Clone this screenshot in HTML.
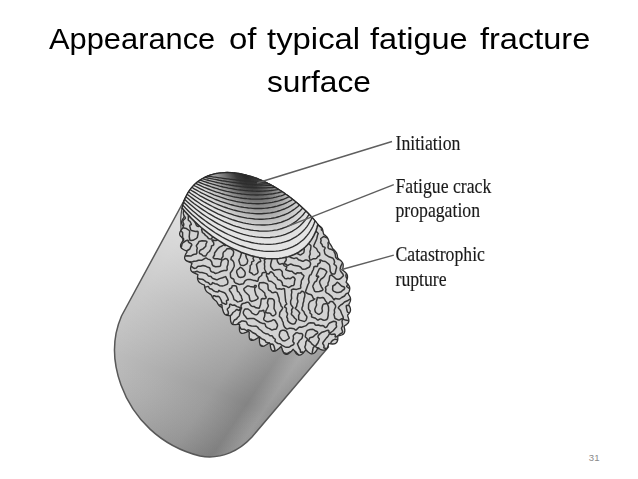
<!DOCTYPE html>
<html><head><meta charset="utf-8"><title>slide</title>
<style>
html,body{margin:0;padding:0;background:#fff;}
body{width:638px;height:479px;position:relative;overflow:hidden;font-family:"Liberation Sans",sans-serif;}
.t{position:absolute;font-family:"Liberation Sans",sans-serif;font-size:30px;line-height:34px;color:#000;white-space:nowrap;}
.t span{display:inline-block;transform-origin:0 0;}
.l{position:absolute;font-family:"Liberation Serif",serif;font-size:17.7px;line-height:20px;color:#1a1a1a;-webkit-text-stroke:0.14px #222;white-space:nowrap;transform-origin:0 100%;transform:scaleY(1.17);filter:blur(0.35px);}
.pn{position:absolute;left:588.8px;top:451.6px;font-size:9.6px;line-height:11px;color:#8a8a8a;font-family:"Liberation Sans",sans-serif;}
</style></head><body>
<svg width="638" height="479" viewBox="0 0 638 479" style="position:absolute;left:0;top:0">
<defs>
<linearGradient id="gb" gradientUnits="userSpaceOnUse" x1="118" y1="330" x2="268.8" y2="431.2">
<stop offset="0" stop-color="#c0c0c0"/><stop offset="0.33" stop-color="#aeaeae"/><stop offset="0.62" stop-color="#9c9c9c"/><stop offset="0.815" stop-color="#848484"/><stop offset="0.915" stop-color="#9a9a9a"/><stop offset="1" stop-color="#8c8c8c"/>
</linearGradient>
<linearGradient id="ga" gradientUnits="userSpaceOnUse" x1="230" y1="225" x2="150" y2="440">
<stop offset="0" stop-color="#fff" stop-opacity="0.52"/><stop offset="0.4" stop-color="#fff" stop-opacity="0.16"/><stop offset="0.7" stop-color="#fff" stop-opacity="0"/><stop offset="1" stop-color="#000" stop-opacity="0.06"/>
</linearGradient>
<radialGradient id="gd" gradientUnits="userSpaceOnUse" cx="0" cy="0" r="1" gradientTransform="matrix(53.032 59.731 36.600 -32.495 245.87 175.00)">
<stop offset="0" stop-color="#1c1c1c" stop-opacity="0.95"/><stop offset="0.18" stop-color="#262626" stop-opacity="0.9"/><stop offset="0.4" stop-color="#3c3c3c" stop-opacity="0.62"/><stop offset="0.65" stop-color="#555" stop-opacity="0.3"/><stop offset="0.85" stop-color="#666" stop-opacity="0.1"/><stop offset="1" stop-color="#777" stop-opacity="0"/>
</radialGradient>
<filter id="bl"><feGaussianBlur stdDeviation="0.45"/></filter>
<clipPath id="face"><ellipse cx="265.5" cy="262.0" rx="105.1" ry="64.4" transform="rotate(48.4 265.5 262.0)"/></clipPath>
</defs>
<g filter="url(#bl)">
<path d="M186,197 L121.5,316 C112,338 112,360 121,385 C133,418 160,446 200,456 C222,460 240,450 252,437 L328.5,347 L300,300 L220,230 Z" fill="url(#gb)"/>
<path d="M186,197 L121.5,316 C112,338 112,360 121,385 C133,418 160,446 200,456 C222,460 240,450 252,437 L328.5,347 L300,300 L220,230 Z" fill="url(#ga)" stroke="#585858" stroke-width="1.5"/>
<path d="M185.2,198.2 184.4,200 183.8,201.8 183.2,203.6 182.7,205.5 182.2,207.4 181.8,209.3 181.5,211.3 181.2,213.4 181,215.4 180.8,217.5 180.7,219.7 180.7,221.8 180.8,224 180.9,226.3 181,228.5 181.2,230.8 181.5,233.1 181.9,235.4 182.3,237.8 182.8,240.1 183.3,242.5 183.9,244.9 184.6,247.3Z" fill="#dadada" stroke="#484848" stroke-width="1.2"/>
<path d="M336.8,342.3 337.5,340.8 337.8,339.1 337.8,337.2 338.2,335.7 340.1,335.5 341.8,335 343.2,334.2 344.2,333.1 344.7,331.7 344.8,330.1 344.5,328.4 344,326.6 345,325.5 346.5,324.6 347.7,323.6 348.5,322.4 348.9,321 348.8,319.5 348.4,317.9 347.8,316.3 347.7,314.9 348.9,313.7 349.8,312.4 350.4,311.1 350.5,309.7 350.3,308.2 349.8,306.8 349,305.4 348.9,304 349.7,302.6 350.3,301.2 350.6,299.8 350.5,298.4 350.1,297 349.4,295.7 348.5,294.3 348.4,293 349.1,291.5 349.6,290 349.8,288.5 349.6,287.1 349.1,285.8 348.3,284.5 347.2,283.3 346.1,282.2 346.7,280.6 347.2,279 347.5,277.5 347.5,276 347.1,274.6 346.4,273.4 345.3,272.2 344.1,271.2 342.7,270.2 342.8,268.7 343.1,267 343.2,265.5 343.1,264.1 342.5,262.7 341.7,261.6 340.7,260.5 339.4,259.5 338.2,258.5 337.5,257.3 337.4,255.8 337.1,254.4 336.6,253.1 335.8,251.9 334.9,250.8 333.9,249.8 332.8,248.8 332.2,247.6 331.6,246.3 330.9,245.1 330.1,244 329.3,242.8 328.9,241.4 328.5,240 328,238.7 327.3,237.5 326.4,236.4 325.3,235.4 324,234.6 323.4,233.4 323.1,231.8 322.8,230.3 322.4,228.9 321.6,227.7 320.6,226.7 319.4,225.9 317.9,225.3 316.3,224.8 316,223.3 315.7,221.6 314.8,220.6 313.9,219.5 313,218.5 312,217.4 311.1,216.4 310.1,215.4 309.1,214.3 308.2,213.3 307.2,212.3 306.2,211.3 305.2,210.4 304.2,209.4 303.2,208.4 302.1,207.5 301.1,206.5 300.1,205.6 299,204.6 298,203.7 296.9,202.8 295.8,201.9 294.7,201 293.7,200.1 292.6,199.2 291.5,198.4 290.3,197.5 289.2,196.7 288.1,195.8 287,195 285.8,194.2 284.7,193.4 283.5,192.6 282.4,191.8 281.2,191 280,190.3 278.8,189.5 277.6,188.8 276.4,188 275.2,187.3 274,186.6 272.8,185.9 271.6,185.3 270.3,184.6 269.1,183.9 267.8,183.3 266.6,182.7 265.3,182.1 264,181.5 262.8,180.9 261.5,180.3 260.2,179.8 258.9,179.3 257.6,178.7 256.3,178.2 254.9,177.8 253.6,177.3 252.3,176.9 251,176.4 249.6,176 248.3,175.6 246.9,175.3 245.6,174.9 244.2,174.6 242.8,174.3 241.4,174 240.1,173.7 238.7,173.5 237.3,173.3 235.9,173.1 234.5,172.9 233.1,172.8 231.7,172.7 230.3,172.6 228.9,172.6 227.5,172.5 226.1,172.5 224.7,172.6 223.3,172.7 221.9,172.8 220.5,172.9 219.1,173.1 217.7,173.3 216.4,173.5 215,173.8 213.6,174.1 212.3,174.5 210.9,174.9 209.6,175.3 208.3,175.8 207,176.4 205.7,176.9 204.4,177.5 203.2,178.2 202,178.9 200.8,179.6 199.6,180.4 198.4,181.2 197.3,182.1 196.3,182.9 195.2,183.9 194.2,184.8 193.2,185.8 192.3,186.9 191.4,188 190.5,189.1 189.7,190.2 188.9,191.3 188.1,192.5 187.4,193.7 186.7,195 186.1,196.2 185.5,197.5 184.9,198.8 184.4,200.1 183.9,201.4 183.5,202.7 183.1,204.1 182.7,205.4 184.2,207.2 184.7,208.7 184,209.9 183.5,211.2 183.3,212.6 183.4,213.9 183.8,215.3 184.1,216.7 183.4,218 182.6,219.3 181.9,220.7 181.6,222.1 181.7,223.5 182.2,224.8 183.1,226.2 183.1,227.5 181.9,229 180.8,230.5 180,232.1 179.6,233.5 179.8,235 180.6,236.3 182,237.5 183.6,238.6 183.7,240 182.2,241.7 181.2,243.5 180.6,245.1 180.6,246.6 181.3,247.9 182.6,249 184.3,250 186.4,250.8 187,252.1 185.8,253.9 185,255.8 184.6,257.4 184.8,258.9 185.6,260.1 187,261.1 188.7,261.9 190.7,262.6 192,263.6 191.2,265.5 190.7,267.3 190.6,268.9 190.9,270.3 191.8,271.5 193,272.4 194.5,273.2 196.2,273.9 197.9,274.6 197.6,276.3 197.5,278 197.7,279.5 198.2,280.9 199,282 200.2,283 201.5,283.8 203,284.5 204.5,285.2 204.6,286.8 204.9,288.3 205.4,289.6 206.1,290.8 207,291.9 208.2,292.8 209.4,293.6 210.7,294.4 211.6,295.5 212.1,296.8 212.8,298 213.7,299.1 214.8,300 216,300.9 216.9,301.9 217.5,303.2 218.2,304.4 219.1,305.5 220.2,306.4 221.5,307.1 222.3,308.2 222.7,309.8 223.2,311.3 223.7,312.7 224.5,313.9 225.6,314.8 227.1,315.4 228.8,315.6 230.4,315.9 230.4,318 230.5,320 230.8,321.8 231.4,323.3 232.4,324.3 233.9,324.7 235.8,324.6 238.1,324.1 239.6,324.4 239.4,327 239.4,329.4 239.7,331.3 240.5,332.7 241.8,333.3 243.7,333.2 246,332.4 248.5,331.2 249.3,332.5 249.1,335.3 249.3,337.7 249.9,339.4 251.1,340.3 252.8,340.4 254.9,339.6 257.3,338.2 259.5,337.2 259.4,340.2 259.6,342.9 260.2,345 261.2,346.2 262.7,346.4 264.6,345.8 266.8,344.5 269.2,342.7 270.2,344 270.5,346.8 271.1,349.1 272.1,350.7 273.4,351.4 275.1,351.1 277,350.1 279,348.4 281.1,346.5 282,348.5 282.7,351 283.7,352.9 285,354.1 286.4,354.4 288,354 289.7,352.8 291.5,351.2 293.2,349.3 294.4,350.7 295.6,352.7 296.9,354.2 298.3,355 299.8,355.1 301.3,354.6 302.8,353.5 304.2,351.9 305.6,350.2 307,350.9 308.5,352.3 310,353.3 311.5,353.8 313,353.7 314.4,353 315.6,351.8 316.7,350.1 317.7,348.3 319.3,348.8 321,349.7 322.7,350.2 324.3,350.2 325.7,349.7 326.8,348.6 327.7,347.1 328.3,345.3 328.7,343.3 330.7,343.8 332.6,344 334.3,343.9 335.7,343.3Z" fill="#d3d3d3" stroke="#2e2e2e" stroke-width="1.3" stroke-linejoin="round"/>
<clipPath id="bf"><path d="M336.8,342.3 337.5,340.8 337.8,339.1 337.8,337.2 338.2,335.7 340.1,335.5 341.8,335 343.2,334.2 344.2,333.1 344.7,331.7 344.8,330.1 344.5,328.4 344,326.6 345,325.5 346.5,324.6 347.7,323.6 348.5,322.4 348.9,321 348.8,319.5 348.4,317.9 347.8,316.3 347.7,314.9 348.9,313.7 349.8,312.4 350.4,311.1 350.5,309.7 350.3,308.2 349.8,306.8 349,305.4 348.9,304 349.7,302.6 350.3,301.2 350.6,299.8 350.5,298.4 350.1,297 349.4,295.7 348.5,294.3 348.4,293 349.1,291.5 349.6,290 349.8,288.5 349.6,287.1 349.1,285.8 348.3,284.5 347.2,283.3 346.1,282.2 346.7,280.6 347.2,279 347.5,277.5 347.5,276 347.1,274.6 346.4,273.4 345.3,272.2 344.1,271.2 342.7,270.2 342.8,268.7 343.1,267 343.2,265.5 343.1,264.1 342.5,262.7 341.7,261.6 340.7,260.5 339.4,259.5 338.2,258.5 337.5,257.3 337.4,255.8 337.1,254.4 336.6,253.1 335.8,251.9 334.9,250.8 333.9,249.8 332.8,248.8 332.2,247.6 331.6,246.3 330.9,245.1 330.1,244 329.3,242.8 328.9,241.4 328.5,240 328,238.7 327.3,237.5 326.4,236.4 325.3,235.4 324,234.6 323.4,233.4 323.1,231.8 322.8,230.3 322.4,228.9 321.6,227.7 320.6,226.7 319.4,225.9 317.9,225.3 316.3,224.8 316,223.3 315.7,221.6 314.8,220.6 313.9,219.5 313,218.5 312,217.4 311.1,216.4 310.1,215.4 309.1,214.3 308.2,213.3 307.2,212.3 306.2,211.3 305.2,210.4 304.2,209.4 303.2,208.4 302.1,207.5 301.1,206.5 300.1,205.6 299,204.6 298,203.7 296.9,202.8 295.8,201.9 294.7,201 293.7,200.1 292.6,199.2 291.5,198.4 290.3,197.5 289.2,196.7 288.1,195.8 287,195 285.8,194.2 284.7,193.4 283.5,192.6 282.4,191.8 281.2,191 280,190.3 278.8,189.5 277.6,188.8 276.4,188 275.2,187.3 274,186.6 272.8,185.9 271.6,185.3 270.3,184.6 269.1,183.9 267.8,183.3 266.6,182.7 265.3,182.1 264,181.5 262.8,180.9 261.5,180.3 260.2,179.8 258.9,179.3 257.6,178.7 256.3,178.2 254.9,177.8 253.6,177.3 252.3,176.9 251,176.4 249.6,176 248.3,175.6 246.9,175.3 245.6,174.9 244.2,174.6 242.8,174.3 241.4,174 240.1,173.7 238.7,173.5 237.3,173.3 235.9,173.1 234.5,172.9 233.1,172.8 231.7,172.7 230.3,172.6 228.9,172.6 227.5,172.5 226.1,172.5 224.7,172.6 223.3,172.7 221.9,172.8 220.5,172.9 219.1,173.1 217.7,173.3 216.4,173.5 215,173.8 213.6,174.1 212.3,174.5 210.9,174.9 209.6,175.3 208.3,175.8 207,176.4 205.7,176.9 204.4,177.5 203.2,178.2 202,178.9 200.8,179.6 199.6,180.4 198.4,181.2 197.3,182.1 196.3,182.9 195.2,183.9 194.2,184.8 193.2,185.8 192.3,186.9 191.4,188 190.5,189.1 189.7,190.2 188.9,191.3 188.1,192.5 187.4,193.7 186.7,195 186.1,196.2 185.5,197.5 184.9,198.8 184.4,200.1 183.9,201.4 183.5,202.7 183.1,204.1 182.7,205.4 184.2,207.2 184.7,208.7 184,209.9 183.5,211.2 183.3,212.6 183.4,213.9 183.8,215.3 184.1,216.7 183.4,218 182.6,219.3 181.9,220.7 181.6,222.1 181.7,223.5 182.2,224.8 183.1,226.2 183.1,227.5 181.9,229 180.8,230.5 180,232.1 179.6,233.5 179.8,235 180.6,236.3 182,237.5 183.6,238.6 183.7,240 182.2,241.7 181.2,243.5 180.6,245.1 180.6,246.6 181.3,247.9 182.6,249 184.3,250 186.4,250.8 187,252.1 185.8,253.9 185,255.8 184.6,257.4 184.8,258.9 185.6,260.1 187,261.1 188.7,261.9 190.7,262.6 192,263.6 191.2,265.5 190.7,267.3 190.6,268.9 190.9,270.3 191.8,271.5 193,272.4 194.5,273.2 196.2,273.9 197.9,274.6 197.6,276.3 197.5,278 197.7,279.5 198.2,280.9 199,282 200.2,283 201.5,283.8 203,284.5 204.5,285.2 204.6,286.8 204.9,288.3 205.4,289.6 206.1,290.8 207,291.9 208.2,292.8 209.4,293.6 210.7,294.4 211.6,295.5 212.1,296.8 212.8,298 213.7,299.1 214.8,300 216,300.9 216.9,301.9 217.5,303.2 218.2,304.4 219.1,305.5 220.2,306.4 221.5,307.1 222.3,308.2 222.7,309.8 223.2,311.3 223.7,312.7 224.5,313.9 225.6,314.8 227.1,315.4 228.8,315.6 230.4,315.9 230.4,318 230.5,320 230.8,321.8 231.4,323.3 232.4,324.3 233.9,324.7 235.8,324.6 238.1,324.1 239.6,324.4 239.4,327 239.4,329.4 239.7,331.3 240.5,332.7 241.8,333.3 243.7,333.2 246,332.4 248.5,331.2 249.3,332.5 249.1,335.3 249.3,337.7 249.9,339.4 251.1,340.3 252.8,340.4 254.9,339.6 257.3,338.2 259.5,337.2 259.4,340.2 259.6,342.9 260.2,345 261.2,346.2 262.7,346.4 264.6,345.8 266.8,344.5 269.2,342.7 270.2,344 270.5,346.8 271.1,349.1 272.1,350.7 273.4,351.4 275.1,351.1 277,350.1 279,348.4 281.1,346.5 282,348.5 282.7,351 283.7,352.9 285,354.1 286.4,354.4 288,354 289.7,352.8 291.5,351.2 293.2,349.3 294.4,350.7 295.6,352.7 296.9,354.2 298.3,355 299.8,355.1 301.3,354.6 302.8,353.5 304.2,351.9 305.6,350.2 307,350.9 308.5,352.3 310,353.3 311.5,353.8 313,353.7 314.4,353 315.6,351.8 316.7,350.1 317.7,348.3 319.3,348.8 321,349.7 322.7,350.2 324.3,350.2 325.7,349.7 326.8,348.6 327.7,347.1 328.3,345.3 328.7,343.3 330.7,343.8 332.6,344 334.3,343.9 335.7,343.3Z"/></clipPath>
<path clip-path="url(#bf)" d="M181.3,165 180.7,166.5 180.9,167.5 181.3,168 182,168.4 184.5,168.8 185.1,169.5 185.6,171 187.5,171.9 187.9,172.5 187.7,173.5 186.7,175 186,177 185,177.7 183.5,178.4 181,178.4 180.5,178 180.1,175.5 178.1,174 173.6,169.5 173.7,169 174.7,167.5 175,166 175.9,165 M219.2,165 218.2,165.5 217.7,166 217.4,167 217,167.2 215.5,167.2 214.1,168 213.8,168.5 213.5,170.9 212.5,172.6 212.4,173.5 212.9,175.5 212.2,177.5 212.3,178.5 214,180 215,181.9 217,182.9 217.2,183.5 216.5,185.5 215,187.3 213.8,189.5 213.5,189.8 212.5,190 210.5,189.1 209.5,188.9 207.5,189.5 206,189.4 203.5,190.3 200,190.8 197,189.7 195.5,185.3 191.3,181 191.1,180 191.2,177 191.5,176.5 194.2,174.5 195.5,171.5 195.7,170.5 195.1,169.5 194,168.5 192.5,167.5 190.5,166.7 189,165 M199.4,165 199.1,166 199.1,166.5 201.5,169.8 203.5,171.5 203.4,173 204,173.9 204.5,173.6 204.5,172 204.9,171.5 206.5,171 207.4,170.5 208.5,168.2 209.5,167.2 210,167 210.1,166.5 208.4,165 M165,170.7 166.5,169.7 167.5,169.6 168.1,170 168.9,172 171.2,174 171.5,175 171,177 171.5,178 172.9,179 173.1,179.5 172.7,181.5 173,182.5 174,183 176,182.8 177.5,184.1 178,184.2 178.5,183.7 179.2,182 180,181.1 183,179.2 184,179.2 185.1,180.5 185.1,183 185.4,183.5 187,184.5 187.4,185 187.7,187.5 189,189.7 190,190.4 192,190.6 194,192.1 196,192.9 198.9,195.5 200,195.8 203,195.9 205.5,197.4 209.5,196.7 211.5,196 213.5,194.1 215.2,193 216.5,191.5 217,191.2 219.5,192.2 222,192.2 226,194.1 227,194.1 228.5,193.5 229.5,193.5 231.5,194.3 232.3,195 232.9,196 232.9,196.5 232.6,197 230.6,198.5 230.3,199 230,201.5 228.5,203 228.3,203.5 230,204.3 231.5,205.6 233.5,205.9 234,206.2 234.5,207 234.8,209 235.5,210.7 236,211.6 237.5,212.5 238,213.3 238.3,214.5 238.3,217 239.2,219 239.5,220.5 239.3,222 238.5,223.4 236.5,224.9 233.5,225.9 231.5,227.2 229.5,227.1 227,228.1 225.5,227.9 224,226.5 222.5,225.8 221,224.1 220,223.6 218.4,223.5 218,223 218.3,222 219.2,220.5 217.5,219.3 216.8,217.5 215.2,215.5 214,213.5 213.5,213.2 212.5,213.4 211,214.2 210.1,215 209,216.5 207.1,218 206.7,219 206.7,220.5 207.7,221.5 211.1,223 212,223.2 214.5,223.1 216,224 216.6,225 216.4,228.5 216.9,230.5 217.5,231.2 219.2,232 220.5,233.1 225,233.5 228,232.9 229.5,233.5 230.5,233.6 232.5,233 233.5,233 234.9,231.5 236,230.9 238,231 239.5,230.4 240.5,230.4 244.5,235.4 246.5,237.4 247.9,239.5 249,239.9 251,240 251.5,240.5 253,242.4 253.3,244.5 255,246.8 255.2,248 254.4,249.5 254.6,252 253.7,254 254,256 253,258.5 254,260.5 253.5,261.1 252,261.6 251.6,262.5 251.7,264 251.5,264.5 250.2,265.5 250.2,268 249.4,272 252.2,273.5 253,274.6 254,274.9 255,274.7 257,273.6 257.6,273 258.1,272 256.4,264.5 258.5,262.3 260.6,261.5 260.8,261 260.6,260.5 259.7,258.5 260,256.5 259.9,254.5 261.2,250.5 261.4,247.5 262.5,246 262.5,245.5 260.2,242 258,240 257.5,239.7 256,239.6 255,239 252.8,236 251.5,231.5 249.8,230 249,228.8 248,228.6 245,229.5 244.5,229.4 244.2,229 243.8,228 243.5,225.5 242.9,223 243.3,222 245.5,220.9 246.4,220 246.7,219 246.5,215.5 245.7,214.5 241.7,212 241.4,211 241.7,209 241.4,206 241,205.3 240.5,205.1 239,205.4 238.5,205.1 239,202.5 238.6,201.5 237.4,200 237.8,198 237.6,197 237,196.5 235,195.9 234.5,194.3 233.3,193 233.1,192.5 233.5,191.5 234,191.3 236,191.2 238,190.4 240.5,190 242,188 244,187 246,185.2 248.2,182.5 248.2,181.5 247.7,180 246.3,178 245.5,177.7 243,177.9 242,178.5 240.4,181 238.5,182.9 236.5,184 234.4,184.5 234.1,186.5 233,187.4 228.5,188.5 226,187.5 224.5,187.4 223.5,186.8 219.2,182.5 219.2,182 220.2,180.5 219.1,178 219.6,176 219.6,173.5 220.4,171 221.1,170 223.5,168.2 226,168.2 229.4,165 M246.1,165 245.5,165.7 244,166.3 241,166 238.5,166.3 236.5,168.4 234.9,169.5 233.5,171.9 233,171.9 231,171.2 229,172.6 227,173.2 226.3,174 224.9,176.5 224.5,178.5 224.6,179 225,179.7 226.5,180.2 228.5,181.6 230.5,182 231.3,181.5 232.1,179.5 233.5,178.1 235,175.4 235.5,175 236,174.9 238.5,175.3 239,175 240,173.5 240.5,173.4 242.5,174.1 242.8,174 243.1,173.5 243.5,171.5 244,170.8 244.5,170.6 247,170.7 249.3,172 250.8,174.5 252.1,176 252.5,179 253,179.7 254.1,180.5 254.2,181 253,182.3 250.9,183.5 250.9,184.5 251.7,187.5 250.8,189.5 250.1,191.5 248.5,192.6 246.5,192.7 245.5,193.4 243.6,195.5 242.2,199 242.1,200 242.4,200.5 244.3,201.5 245.4,203 246.5,203.5 248,203 249.3,201.5 251,200 252.4,194.5 252.6,192.5 253.1,192 255,191.2 256.5,191.3 258,191.9 259,193.1 260,193.9 261,194.2 263.5,194.3 265.8,193.5 268.6,191 268.6,190.5 267.9,189 268.5,186.2 268.9,185.5 270,184.7 270.5,184 270.7,182 272.5,180.5 272,180 269.5,178.7 268.6,177.5 268.4,176 268,175.1 266,174.3 265.7,173.5 267.1,170.5 269.1,168.5 269.7,165 M261.3,165 260.9,166.5 260.9,167.5 261.5,169 262.8,171 263.1,172.5 262.5,173.4 261,174 260.7,175.5 262,176.9 263.1,178.5 264.8,183 265,184.5 264.6,185.5 263.8,186.5 262,187.6 260.5,188 260,187.8 259.4,187 257.5,185.4 257.1,184.5 256.7,182 255.4,180.5 256.5,178.5 257,178.2 259,178.4 260,178 260.3,177.5 260.2,176.5 258.5,175.3 256.8,171.5 253.6,168.5 253,167.5 252.5,167 251,167 250,166.5 250,166 251.2,165 M276.3,165 276,165.7 274.5,166.9 274.1,167.5 274.1,168 274.9,170 274,172.5 274.4,174.5 274.3,176 275.1,178.5 274.8,179.5 273.8,180.5 273.7,181 275,183 275.9,185.5 278.5,187.8 281,188.6 287,188.5 288,188.3 290,187.4 291,187.7 292.4,190 293.4,191 293.6,191.5 293.3,194 292.7,196.5 293,197.6 294.5,199.5 295,199.6 296.5,197.9 298.5,197.2 299.1,196.5 298.7,194 299.3,191.5 300.2,189.5 300.7,185.5 301.7,183.5 301.1,180.5 301.6,180 303.5,179.2 304.4,178.5 304.8,177.5 304.5,176.5 305,176.3 307,177.2 308.6,177.5 309.3,178 309.6,178.5 309.6,180 310.5,181.5 310.5,182 310,183 308,184.3 306.7,186.5 306.3,189.5 305.6,192.5 303.8,195 302.6,198 302.6,201 303.8,205 307,207.4 309,208.3 310.8,209.5 311.2,210 311.2,210.5 310.6,211.5 310.4,212 310.6,212.5 313.5,215.1 314.5,215.7 315.5,215.8 319.5,215.6 320.5,215.1 322.5,214.8 322.9,214.5 322.8,214 322.5,213.4 322,213.2 320.5,213 320,212.1 319.2,209.5 317.5,208.3 316,206.7 314.5,206.3 312.5,206.4 311.4,206 310.9,205.5 310.9,204 309.6,201 308.8,195 309.5,193.5 311.5,191.3 315.3,189 315.6,187 316.4,185 316.4,184.5 316.1,184 312.3,181 312,180 312.3,179 313.9,177 314.5,175.9 316.8,174 317.3,173 317.9,171 317.4,168.5 317,167.6 315.8,167 315.7,166.5 316.5,166.1 317.5,166.3 318,165.9 318.3,165 M298.6,165 299.5,167.3 302.4,171 302,171.5 301,171.9 299,172.2 298,173 296.9,176.5 298.3,180 298,180.5 296,182 295.2,184.5 294.5,185.3 294,185.4 292,184.8 290,184.5 289.4,184 288.8,182.5 288,182 287,181.9 285,182.7 282.5,181.9 281.5,181.3 278.9,179 278.7,178 280.1,174 280.3,171.5 281,169 281.1,167 282.2,165 M312.9,165 313.1,166 312.4,167.5 312.3,170 309.5,171.3 308.5,172.7 308,173 304.6,172 303.6,171.5 303.2,171 304.5,169.5 304.6,169 304.1,167 304.9,165 M330.5,165 329.5,165.8 327.5,165.5 326,166 323,169.1 320,170.5 319.6,171 319.7,171.5 322,174.1 324,174.1 329,172.6 334,169.2 335,168.9 336,169 335.6,170.5 335.7,171 336,171.5 337.5,172.5 337.6,173 337.9,175 337.5,176.1 337,176.5 335.5,176 335,176.2 333.5,178 331.5,179 329.5,178.3 326.5,179 325.5,178.7 323.5,177.3 322.5,177.5 321.6,178.5 320.7,180.5 319.3,182.5 319.2,183 319.4,183.5 321,184.5 323.1,184.5 325.5,185.5 328,185.1 330,185.5 331.5,184.5 332.5,184.2 335,184.7 335.9,184 337.2,181 336.5,179 336.5,178.4 337,178.1 337.5,178.3 340,178.1 342,178.9 342.5,178.8 344,177.5 346.5,178.1 347.5,177.9 348.2,177.5 349.5,176 351.5,176.9 354.5,176.6 355,177 355.7,179 357,180.5 356.9,181.5 356.5,182 355.5,182.2 354,181.7 353.5,182 351.5,185 351,185.5 350,186.1 348.5,185.8 347,184.4 345.5,183.7 343.5,183.8 340.5,184.9 339.5,185.6 338.9,186.5 339.7,190 342.5,192.6 343.5,193.2 344.5,192.9 346.5,191.9 348.2,190 349,189.5 351.5,189.1 352.5,189.3 353.3,190 354.6,192 352.4,197.5 352.5,198.4 353,199 359.5,202.2 360.5,201.9 362,200.4 363.5,200.1 364.5,199.6 M364.5,180 363.5,180.6 363,180.5 362.7,180 362.7,179 363.6,178 363.5,176.5 362.5,175.9 360.5,176.3 360,175.9 359.7,174.5 360.8,172.5 360.6,172 360,171.8 359,171.8 357.7,173.5 357,174 356,173.6 354.5,172.1 353.6,171.5 350,170 349,170.1 347,171.3 345.5,171.7 343.5,171.7 341.5,170.8 339,171.5 338,171.4 337,169.7 336,169 336.5,168.8 337.5,167.5 338.7,165 M345.9,165 348,166.8 349,167.1 351,166.7 352.6,165 M358.4,165 359.2,168.5 359.5,169 361.1,170 361.8,171.5 363,171.8 364.5,171.1 M290.2,178 291.5,177.2 293.5,177.3 294.5,177 295,176 295.1,175 294.7,173 293.8,171.5 291,169 289.5,168.5 288.5,168.9 287.1,170.5 285.8,171.5 285.3,172.5 285.8,176 286.5,177.3 288.5,178.4 289.5,178.4 290.2,178 M206.4,184.5 207.7,184 208.7,183 210.1,182 210.7,181 210.5,180 206.3,177 204.5,175.1 204,175 202,175.5 200.5,175 199.8,175 199.4,175.5 198.8,179.5 198.8,180.5 199.2,181.5 200.5,183.2 202,184.1 204,184.6 206.4,184.5 M165,199.2 166,198.7 166.5,198.8 168,199.7 169,199.9 171,199.1 171.5,199.3 172.5,201 173,200.5 173.5,199.4 174.4,195.5 174,194.5 171,194 170.1,193 169.3,191.5 169.1,190 169.6,188.5 169.7,186.5 170.3,184 170,183 168.4,182 167.1,180 166,179.6 165,179.7 M364.5,194.5 364,195.1 363.5,195.2 361.8,194.5 358.5,194.1 355.6,192 355.6,191.5 356.6,189.5 357.4,187 359.3,185.5 360.5,183.6 361,183.6 362.5,185 363.7,187.5 364.5,188.5 M165,221.7 165.6,221 165.4,218.5 165.7,215 166.1,213 166.7,212 168.1,211 169.5,209.7 170.5,209.6 171.6,210 173.5,211.5 176,212.7 179,212.4 180.5,212.7 182.5,212.3 183,212.5 183.5,215.5 185,217 185.4,218 185.2,218.5 183.5,220 182.9,221 182.9,222 183.6,223.5 183.8,224.5 183.2,227 183.3,227.5 184,228.1 186.5,228.6 189.2,230.5 189.7,231.5 189.2,236.5 189.8,240 191,240.6 193,240.3 196.5,238.3 197.3,237.5 198.1,233.5 198.1,232 197.9,231.5 197.5,231.3 195.5,231.5 191.5,230.5 190.8,230 190.6,229.5 189.7,226 190,225.2 191.3,224.5 191.3,224 190.1,221.5 188.5,220.4 188.2,219.5 188.4,218 188.3,216.5 188.5,216 190.1,214.5 191,212 191,211 190.4,208 189.3,206.5 189.6,206 190.5,205.7 193,206 196,205.3 196.5,205.4 197,206.1 198.5,210 198.6,211 197,212.9 196,214.5 195.8,215.5 195.8,217.5 195.5,218.3 194.5,219.6 194.3,220.5 196.5,225.5 197.5,226.3 198.5,226.5 200,225.6 201.7,225 201.7,223 202.4,221 202.7,218 202,215 203.1,211 203.6,210 206.5,208.2 208,208 209.4,208.5 212,210.6 213.5,211.2 214.5,210.6 216.1,208.5 217.9,207 220,205.8 222.5,204.9 224.4,203.5 225,202.5 224.9,200.5 224.7,199.5 223,197.6 221,197.6 219,197.2 218.1,197.5 217.7,198 216.9,200 212,203.7 207.5,204 206.7,203.5 205.9,202.5 205,202.2 203.5,202.8 200.5,202.7 198.5,203 197.9,202.5 197.4,200.5 196.5,199.5 194,198.8 192.5,198.1 190.5,197.9 189.8,197.5 188.9,196.5 187,196 186.5,195.6 185.9,194.5 185.5,192.7 185,192 183.5,192.1 182.8,190.5 180,186.9 179,186.1 178,185.9 176.6,186.5 176,187.1 176,188 176.4,189.5 176.3,190 175.2,191.5 175.1,192.5 175.3,193.5 177.5,197.1 178,197.3 180,197.2 180.5,197.4 184.9,201.5 188,202.6 188.3,203 188.2,204 187,206.9 186.4,207.5 184.5,208.3 181,208.4 180.5,208.2 179.9,206.5 179.1,205.5 177.5,204.9 175.5,203.6 173,202.7 172.5,202.7 170.3,204.5 169.5,206.1 169,206.6 166.5,207.4 165,207.5 M364.5,207.4 362,207.1 360,207.9 359,208 358,207.7 356,206.2 354,206.9 353.5,206.8 351.6,205.5 350,205 349.5,204.5 349.5,202 349,200.7 348,199.6 346,198.5 345.6,197 345,196.5 344.5,196.6 344,197 341.5,199.5 341.2,200 341.3,202.5 340.7,206.5 337.5,207 336,207.5 335,207.5 334.4,207 334.1,205.5 333.5,204.5 330.5,202.8 329.5,202.5 326.5,202.9 323.5,202.7 322.9,202.5 322.4,201.5 322.2,199 322.8,196.5 322.9,194.5 323.5,194.1 324.5,193.8 326.3,195 328.5,196 331,199.1 332.5,199.4 337.5,199.3 338,199.1 337.3,198 337.3,197 337.9,196.5 339.5,196.1 340.4,195.5 340.5,195 340,194.5 339,194.1 337,194 336.5,193.7 334.8,191.5 332.5,191.2 331,190.6 327.5,190.2 326,191.8 325,192.2 322.5,191.1 321,191.7 320,191.6 318.5,191 317.5,190.2 317.1,190.5 317,192.5 316.4,196 315.4,198.5 316.3,201.5 316.5,203.5 317,203.8 319,203.7 322.5,204.4 323.5,205.1 324.2,206 324.9,208 325.2,208.5 328,210.1 331,210.2 333,211.5 335,212 339,215 341.5,215.6 342.1,216 342.2,216.5 341.9,217 340.5,218.4 339.9,219.5 339,222.8 336.9,224.5 335.3,227.5 334.5,228.6 333,229.6 330.5,230 327.5,231.5 325.5,231.9 324.5,233.1 324,232.9 323.5,231.5 321.4,230 321.4,227.5 320.7,225.5 320.6,224 320,223 318,222.2 316,222.2 315,221.9 313,220.2 311,220.3 310.5,220.2 309.5,218.5 309,218.1 307.5,217.7 306,216.4 303.9,216 303.6,215.5 303.4,213.5 302,212 301.9,211.5 302,209.5 301.5,208.3 300.3,207.5 298.5,205.7 296,205.2 294,204.4 293.5,204.6 292.1,207.5 290.9,209 290.7,209.5 290.8,210.5 292.2,213 293,213.7 294,213.9 296,213.8 299,215.8 299.4,216.5 300,219.5 299.9,220.5 299,221.6 296.5,223.3 293.8,224.5 293.7,226.5 294.2,227.5 295,228 297,228.3 299,229.7 300,229.9 301.5,228.5 301.9,228 302.2,226.5 302.6,226 304.5,224.7 306.5,222.9 308,222.5 310.5,222.6 311.5,223.2 312,223.9 314.3,229 316,230.5 317,232.3 318.3,233.5 317.5,235.3 316.7,239 313.6,246 314.3,247 316.5,248.5 317.9,251.5 319.6,253 319.8,255 319.5,255.6 317.9,256.5 316.5,258.4 315.5,258.7 313.5,258.7 311.5,259.7 310.5,259.9 310,259.7 309.7,259 309.2,256.5 310.2,254 309.9,251.5 310.6,249.5 311,246 310.3,245 307.5,242.5 307,242.3 306.5,242.4 303.5,243.6 302.6,244 302.4,244.5 304.3,249 304,252 303.5,253 301,254.7 300,254.9 297.3,253.5 296.5,252.5 296,250.9 294.7,249 294.8,247.5 295.2,247 296.5,246.2 298,244.6 299.8,244 300.5,243.5 301.1,240 301,239 300.7,238.5 297.5,234.7 296.5,234.7 295,235.3 293,235.6 292.4,236 292.6,239.5 293.3,245 293.2,245.5 292,246 289.5,245.8 287.5,246.1 287,245.8 286.5,245 286.2,243 285.1,240.5 287.5,237 290.2,234 290.5,233 290.4,231.5 290,230.9 288.6,230 288.6,229.5 289.5,229.1 290.5,229.3 291,229.1 291.5,228.6 291.9,225.5 293.1,224 292.8,223 291.2,220.5 290.4,214.5 290,213.7 289.5,213.3 288.5,213.4 287,214.6 284.4,214 284.1,213.5 283.7,211.5 282.8,209.5 282.8,207.5 283.2,206.5 287,204 289.3,203.5 291.7,200 291.7,199 290,196.5 286,194.7 285,194.9 281.8,196.5 281.5,197.5 281.8,199 282,202.5 281.7,203.5 281,204.1 279,204.9 277.5,206 275.5,208.5 275.1,209.5 275.1,210 276,211.7 276.2,214 276.6,215 278.5,217 279.5,217.4 281.5,217.6 282.3,218 283.2,219.5 284.6,221 284.8,223.5 286.1,225.5 286,226.5 285.2,228.5 285.2,230.5 284.8,231 283,232.2 280.5,234.3 279,234.3 278.1,233.5 278,232.5 279.1,227.5 278.9,226 276.5,222.7 274.5,221.1 272.9,220.5 272.3,220 271.6,218.5 269.9,216 269.7,215 269.9,213 269,210.5 270.2,207.5 270.5,207.1 272.1,206.5 272.4,206 272.3,204.5 272.5,203.5 274,201.6 274.7,199.5 277.2,197 278.6,194 278.8,190 278.5,189.3 278,188.9 277,189 270.8,193 269.4,196.5 269.5,200.5 269.4,201 269,201.3 267,201.4 265.6,203 265,203.1 264.5,202.7 262.5,199.7 260.5,198.7 259.5,198.6 257.5,199.5 256.9,200 256.4,201 255.8,203.5 254,206.2 253,206.7 251,206.4 250.5,206.6 249.8,207.5 248,209 247.8,209.5 248.3,212.5 249,214 249.5,214.5 252,214.4 253.5,214.6 254.2,215 254.3,216.5 254,217.3 253.5,217.7 251.5,218.4 251.1,219 250.6,223 251.5,225.4 252.3,226.5 253.5,227.2 255.5,227.7 256.3,227.5 257.3,226 259.4,224.5 259.5,224 258.8,222 259.1,220 259.1,219 258.7,218.5 256.7,217 255,214.5 255,213.5 256.4,210.5 257.6,208.5 258.5,207.6 262.5,205.8 263.2,206 264.5,208.2 266.5,208.7 267,209.5 266.8,210 265,210.7 264.5,211.1 263.1,214.5 262.8,216 263.1,218.5 264.5,221.4 266.5,222.5 267.6,223.5 268.3,225.5 269,225.7 270.5,225.6 271.5,226.3 273.3,231 273,232 271,234 269.5,234.8 268,235 267.5,234.8 266.8,234 266.4,231 266.2,230.5 264.5,229 264,227.4 262.5,227.9 260,227.7 259,228.2 258.5,229 258.2,231.5 258.7,235 259.1,236 260,236.7 261,237.1 264,236.9 265.6,237.5 267,239.5 268,245 267.2,246.5 267.9,249 267.4,251 267.6,254 266.8,255.5 266.5,258.1 266,258.7 264.6,259.5 264.3,260 264.8,262 264.4,264 264.7,266.5 264.5,268.5 265,270 266.1,272 266.1,272.5 263.5,272.5 262.4,273 262.1,273.5 261.6,275.5 259.5,277 258.5,278.3 257.9,281 257.5,281.3 257,281.2 255,280.5 253.5,280.4 250.5,279.5 248,279.4 246.5,279.9 245,280.9 243.5,283.7 239.5,284.5 238.5,284.3 237.5,283.7 236,283.3 234.9,282.5 234.2,281.5 233.9,279.5 233.4,279 231.4,278 230.6,277 230.3,273 232.5,270 234.1,266.5 234.3,265.5 233.8,262.5 233.3,261.5 232.5,260.4 230.9,259.5 231.4,257 233,255.6 233.2,255 233.7,252 233.1,250.5 231,248.9 230,248.6 227,248.7 225.5,250.6 223.6,252 223,253.5 223,256.5 222,257.8 221.5,259.1 221,259.5 217.5,258.8 215,258.8 214,258.5 213.3,258 213.1,257.5 213.3,257 214.5,255 214.6,253 217.5,249 219.5,247.1 222,246 223.5,245 224,244.8 225,245.6 225.5,245.6 225.9,245 227,242 226.7,240.5 225.5,239.4 222,238.4 220.5,239.2 218,239.4 216,240.6 214.5,240.5 212.5,239.9 212,239.9 212.1,240.5 213.6,242.5 213.8,244 213.6,245 213,245.5 211.5,245.9 211.3,248 210,250.5 209.4,251.5 207.5,253 206,255.7 205.5,256.1 204,256.1 203,255.8 201.5,254.2 200,253.7 199.4,253 199.3,252 200,250.4 200.5,250 203,248.9 205.5,246.5 205.8,246 206,243.8 207,242 206.8,241.5 206,241.1 202,240.7 199,241.5 198.3,243 196.4,245.5 196.5,246.5 197.3,248 196.8,250 196.9,253 196.2,254 193.5,254.5 191.5,255.7 190.5,256 188,255.7 185,256 182.5,255.7 179.5,256.2 178.2,256 177,255.2 176.5,255.3 176,256 176.6,257.5 176.5,258 175.3,260 175,261.5 175.3,262.5 176.5,264.5 177,265 177.5,265.1 179.5,264.4 182.5,262.3 185,261.3 186.5,261.3 191.5,262.1 194,261.2 196.5,261 198.5,260.2 202,260.2 205,258.3 206,257.9 208,259.1 210,259.8 210.5,260.3 211.7,262 212.2,264.5 213,265.7 215.5,266.7 219,266.6 220,266.2 220.6,265.5 220.9,263 222,260 223.5,259.6 225,258.7 226,258.6 227,259 228.3,261 227.9,264.5 227,267 227.2,269.5 227,270.1 226.5,270.4 224,270.6 220.5,271.5 218.5,272.6 215.5,273.5 215,273.3 213.5,272.2 212,271.9 211,271.3 210.3,270 210,268.5 209.5,267.8 208,267.3 206,266.3 203,265.5 200.5,266.2 198,266.2 196,268.1 195,268.4 193.5,268.1 192,266.8 191,266.8 190,267.1 188.5,268 185.5,268.8 182,269 181,268.7 179,267.1 178.5,267 177,269.2 175,270.1 173.5,273.2 172,272.1 171,272 170.2,273.5 169.5,274.2 168.5,274.6 167,274.7 166.5,275.5 166.4,277 165.7,279.5 166.1,281 168.5,283.9 169.5,284 172.6,283.5 173.1,284 173.6,286 175.7,288 176.5,288.4 178.5,288.8 181.5,288.7 182.5,288.2 184,286.4 186.5,286.4 187.1,286 188,284.4 189,283.9 190,283.7 191.5,285 193.5,284.3 194.5,284.3 202,287 205.5,287.1 208,286.4 208.5,286.6 209.5,288.5 212,289.2 213.5,290.8 215,291.4 218,291.9 218.5,291.5 218.7,290.5 219,290.4 220,291.1 224.5,292.8 225.5,293.6 227.3,297 228.3,299.5 228.2,300 227,300.3 226.4,301 226.7,303 226.5,304 225.5,304.3 224,303.4 222.5,303.1 222,302.8 221.1,300 219.7,297.5 219,296.7 218,296.3 216,296.5 214.5,295.8 213.5,295.8 213,296.5 212.1,299 211.8,305 211,306.1 208.5,307.6 207.6,309 206.4,313.5 206.3,315 206,315.9 205,316.5 202.1,317 200.5,317.9 199.5,317.8 197.9,317 197,316 197.1,313.5 196.7,311.5 197.5,310.8 200.5,310 202,308.7 202.5,308.5 204,308.8 204.6,308.5 204.7,308 204.5,307.5 203.5,306.5 203.1,305 203.3,304 204.5,302.5 204.5,301 205.5,300.2 207.7,299.5 210,297 209.9,296.5 207.4,293.5 206.5,293 205,292.9 201,293.2 199.7,294 199.4,294.5 199,297.5 199.1,298 200.2,300 200.2,301 199,303.3 197,305.4 196,305.6 194,305.4 192.5,305.6 191,303.9 190,303.4 188,303.9 185,303.6 183.5,304.3 182.5,304.3 181.9,304 181.5,303 181.8,301.5 181.4,294.5 181,293.6 180,293 179.8,292.5 179.9,291 179.5,289.8 178.5,289.3 177.7,290 176.8,292 175.4,294 175,296 175.4,298.5 175.2,302.5 173,306.5 172.5,306.6 171.5,305.6 170.5,304.1 168.5,303.4 168,303 167.7,301.5 167.9,300 169.3,298.5 169.7,296.5 171,294.5 171.1,293 170.8,291.5 169.9,290.5 167,289.1 166,289.2 165,290.2 M231.6,221.5 232.2,221 232.6,220 232.8,216.5 232.6,215.5 230.5,214 227.7,211 227.2,210 226.9,207.5 226.5,207 226,206.9 225.5,207.3 225.2,208.5 224.5,209.5 222.5,210 222,210.5 222.5,213.5 222.1,215.5 222.2,216.5 223.1,218 225.5,219.4 226.4,221 227,221.3 231.6,221.5 M357.5,220.5 355.5,220.7 354.5,220.3 353,219.1 350.5,213.7 350,213.9 348,215.7 347,216.1 345,216 343.5,215.4 342.2,213.5 341.7,212 342,210.5 343,208.5 343.5,208.2 348,207.6 349,208.3 350.5,210.6 352.5,211.1 353.2,211.5 354,213.1 355,213 356,212.2 357,211.9 358,212 359,212.5 360.1,214 360.3,215 360.2,216.5 360.8,218.5 360.2,219.5 359.5,220.1 357.5,220.5 M331,224.5 332,223.9 333.2,222 333.4,221 333.1,219.5 331.9,217.5 330.5,216.3 328,215.7 326.5,214.7 325.5,214.6 324,215 323.8,215.5 323.7,217.5 322.7,219 324,222 325,222.9 328.5,224.5 329.5,224.7 331,224.5 M165,268.9 166,269.8 167,270.3 168,270.3 168.5,270.1 169.2,268.5 170.8,267 171.1,266 171.1,263.5 168.5,260 167.3,256 167.4,254.5 167.7,253.5 168,253.2 169,253.2 173,254 174.5,253.6 175.5,252.8 176.3,251.5 176.5,250 176.2,248.5 174.6,244.5 174.4,243 174.6,241.5 175,241 175.5,240.8 177,241.1 178,241 179.5,239.6 182,238.9 182.6,238 182.6,232.5 180,230.1 178,229.3 177,226 177,225 177.7,223 177.8,222 177.5,220 177.5,217.1 177.1,216 176.7,215.5 176,215.4 174.5,216.7 173,217.3 169.7,220.5 169.3,221.5 169.4,222.5 170.6,227.5 171,227.9 173,227.9 173.5,228.1 174.5,229.5 175.7,230.5 176,231 175.5,234 174.5,236.7 171.5,237.7 169.5,237 168.6,235.5 168.4,232.5 165.5,229.5 165,229.2 M348,232.2 344.5,232.2 342.8,231 342.6,230.5 342.9,229 343.1,226.5 343.9,223.5 344.4,223 348.5,221.6 350,221.6 351.3,222.5 352.4,224.5 351.9,228 351.5,229 349.2,230.5 348.5,231.9 348,232.2 M364.5,250.8 362.2,248.5 362.3,245 360.5,241 359.6,240 355,237.7 354.6,237 354.4,235 355,232.5 354.8,230.5 355,229.8 355.5,229.3 357.7,228.5 358.7,226.5 359.2,226 362,225.1 363.1,223 364.5,222 M211.5,239 213.4,235 213.6,233 213.2,232 212,230.7 208,228.1 204,227.2 203,227.4 201.6,229.5 202.4,232.5 204,233.6 205.5,235.4 207,236.5 208.5,238.5 210.5,239.1 211.5,239 M364.5,229.2 363.5,229.5 362,231.2 361.3,232.5 361.1,234 361.9,236 362,238.2 362.5,238.6 364.5,239.2 M307.5,240 308.9,238.5 310.5,237.7 311.3,237 312.1,235.5 312.2,234.5 311,231.6 310.5,231 309.5,230.6 305.5,230 304.6,231.5 303.1,233 302.9,234 304.5,236 304.9,238 305.5,239.2 306.5,240.1 307,240.3 307.5,240 M364.5,290.8 363.1,292.5 362,294.5 362.4,296.5 362.5,298.5 363.4,301 363,303 362.5,304 361.5,304.4 360,304.5 358,303.7 357,302.9 356.3,302 355.5,299.4 355,299 352.5,297.8 349.5,299.4 348,300.5 344.5,302 342.5,304 340.5,305.2 339.6,306 338.4,307.5 338.3,308 340.5,310.5 341.6,313.5 343,316.5 343.3,318 343,318.9 341.5,318.8 340,319.7 339,320 338,319.9 335.2,318.5 334.7,318 334.5,316.5 333.9,314.5 334.6,312.5 334.3,310 335.6,307 335.6,306 335.3,305 333,302 332,301.5 330.5,301.4 330,301.7 329,303 327.5,303.9 326.8,302.5 325.5,300.9 324.5,299 323.5,297.8 322.5,297.6 320,297.9 318,297.4 317.4,297.5 317.1,298 317.1,299 316.2,302 316.6,305 315.1,308.5 314.8,309.5 315.2,311.5 315.8,312.5 318.5,314.3 319.5,314.2 321.2,313 322,312 322.4,311 322,308.5 322.6,305.5 323.1,304.5 324,303.9 327,303.6 327.5,304.1 328.5,307 328.6,310.5 328.2,313 328.2,315.5 327.5,318.5 326.7,319.5 325.5,320 324,320.3 323,320.1 321.5,319.2 320.5,318.9 319.5,319.2 318.5,319.9 317.5,320 315.5,318.3 311.8,317 311.5,316.6 311.7,314.5 309.9,313 310.1,311 308.8,309.5 308.5,308.5 308.6,304 309.7,302 310.5,301.1 313.4,300 314.9,299 314,298.8 313.1,298 312.3,296 311.5,295 310.5,294.4 308.5,294.1 306,292.5 305.5,291.5 308,284.5 309.1,282.5 308.5,279 309.5,275.6 310,274.9 311,274.8 312.5,271.1 313.4,269.5 313.9,267 315,266.3 317,266.5 317.5,266.2 317.9,264 319.7,263 320.2,262.5 320.3,261.5 319.8,260 320.5,259.9 322.5,261 325.5,261.5 329,264.3 329.8,266 330.3,271.5 331.5,273.5 332.5,274 334.5,274 335,273.5 335.5,272.1 336,269.5 336.5,268 336.5,267 336,265.7 334.2,264.5 334,264 334.6,262 334,259.8 333,258.3 329,256.8 326,254.9 325.1,254 324.7,253 324.2,250 325.2,248 325,247.5 324.5,247.1 322.7,246.5 322,244.5 320.8,243 320.6,242.5 321.1,240.5 320.7,239 320.8,238.5 323.5,236.7 324,236.6 328,238.3 328.8,239.5 329.1,240.5 328.9,241.5 328,243 328.3,245 328,247 328.2,248 329,248.7 331.7,249.5 333.5,250.5 333.9,251 334.4,252.5 335.1,253.5 335.6,257 336.2,258 337.5,259.2 338.5,259.4 340,259.3 341.5,259.5 342,259.5 342.5,259 342.7,258 342.6,256 343,254.5 342.6,253.5 340.2,251.5 339.2,249.5 338.4,248.5 337.5,246.5 336,244.3 334.2,242.5 333.8,240.5 333.5,240 332.3,239 332.4,238 333.5,236 334.6,233 334.8,231.5 335.5,230.6 336,230.3 336.5,230.3 337,230.7 338,232.2 338.5,232.3 340.5,231.9 341.2,234.5 341.2,235.5 340.5,237 340.3,239 339.6,241.5 340.4,243 340.7,245.5 341.5,246.4 343.5,246.6 344,246.9 345.6,248.5 346.4,251 347.5,253.3 348.8,258 350.2,260 351.3,262.5 353,264.8 354,265.1 355.5,264.8 356.4,264 357,261.5 357,258.5 353.5,253 352.5,249.3 350,248.1 349,246.3 347,246.4 346.2,246 345.9,245.5 346.4,243 345.8,240.5 346.3,239 346.9,238 347.5,237.6 348.5,237.5 351,237.6 352.2,238 352.5,238.5 352.5,240.5 353.7,242.5 354.6,246.5 355.7,247.5 357.3,248.5 358.5,250 359.9,251 360.2,251.5 360.5,253.5 361.6,256 360.8,258 361.5,258.9 363.4,260 363.6,260.5 363.1,262.5 363.3,264.5 363.2,266.5 363.7,267.5 364.5,268.4 M294,324.1 292.5,324.1 290.5,323.3 289,322.2 287.6,320.5 287.6,318.5 286.7,317 287.5,314.5 287.5,313.5 286.3,311.5 286.4,308.5 286,307.9 284.6,307 284.6,306.5 285.5,304.9 286.5,304.4 286.8,304 285.9,302 285.5,300 284.5,289 284,288.7 283.5,288.6 281.5,289.3 279.5,288.8 277.5,289.1 277,288.9 276,287.5 275.7,285.5 275.3,284.5 271.5,281.5 268.9,281 268.2,280 267.5,277.5 266.5,276 266.5,274 266.9,273.5 268.5,273.9 269,273.8 270.3,272 271,271.8 271.5,271.9 273.4,273.5 274.6,276 276.8,277.5 277.7,279.5 280.5,280.5 281.1,281 282.3,283 282.5,284.9 283.1,285.5 286,286.2 288.5,287.6 289.5,287.2 291.5,285.8 293.5,285.4 294.2,284.5 294.6,281 295.1,279.5 294.8,278.5 294,277.5 293.2,277 292.5,277 291,278.3 290,278.7 288,278.3 286.5,278.8 285,278.6 282.5,275.5 282.3,274.5 282.3,272 281.3,270.5 280,269.6 279,269.4 276,269.7 274.5,270.2 273.5,270 272.5,269.1 270.7,266.5 270.6,265.5 270.7,264 272.2,258 272.9,256 273.1,253.5 273.5,252.8 274.5,252 275,251 274.4,248 275.4,247 275.1,246 274.5,245.2 272.5,244.1 272,243.6 271.8,242 272,241.4 272.5,240.8 274.1,240.5 274.4,240 274.2,238 274.4,237 275,236.2 276,235.9 278,235.7 279.5,235.8 280.5,236.5 280.8,237.5 280.2,240.5 280.3,242.5 278.6,244.5 278,246.5 277.5,247 275.9,247.5 276.2,248.5 277,249 279,249.1 281,249.9 283,249.4 285.5,249.2 287.5,248 288.5,248.1 289,248.6 289.4,249.5 289.1,251.5 290,254 289.6,256 289.7,256.5 290,257 291.5,257.8 293.5,258.4 294.5,258.4 296,257.9 296.9,258 298.5,259.8 300,260.2 302.5,261.3 303.5,261.2 305.5,259.9 306.5,259.9 309.5,261.2 310.5,263 310.5,264.5 309.5,267 305.5,269 303,269.3 302,268.8 300.5,267 298,265.9 293.5,265.2 291.5,264.3 290.5,264.1 289.5,264.4 288,265.4 287.5,265.4 286.4,264.5 284.3,263.5 284.5,262.5 286,260.5 286.3,259 285.7,257.5 283,254.5 282.5,254.3 281,255.2 278.8,255.5 278.4,256 278,257.6 277.1,259.5 277.2,260.5 277.7,262 279,263.8 280,264.3 282,263.6 283,263.8 283.3,264 284,265.5 284.5,265.9 286.5,266.5 286.7,267.5 285.7,269.5 286.1,270 290,271.3 292,271.2 294,273.2 295.5,274 296,273.9 297,272.9 297.5,272.8 299.5,273 301,272.7 301.5,272.9 302,274.2 303.9,275.5 303.7,276.5 302.9,278.5 301.8,280 301.3,281 301.2,283.5 300.6,285.5 300.8,287.5 300.5,288.2 296.5,289.4 293,289.1 292,289.5 291.4,290 291.8,292 291.3,295 291.6,298.5 290.6,301 290.6,303 291,304.6 293,307.5 292.9,308 291.7,309.5 291.6,310.5 291.9,312 291.3,314 291.9,315 293.1,316 294.6,318 296.4,319.5 296.6,320 295,323.3 294,324.1 M245,265 247,263.6 247.7,261 247.6,260 246.5,258 245.8,255.5 246.3,254 248.2,251 248.6,248.5 248.3,247.5 247.5,246.5 245.5,244.9 243.5,244.1 242.6,243.5 241.4,241.5 239.5,240.3 238,238 234,236.3 232.5,236.4 231.2,237.5 230.2,239.5 229.9,241 230.2,243 230.5,243.6 231,243.7 233,243.5 235.3,244 238.4,245.5 239,246.1 239.4,247 239.6,249.5 241.2,252.5 241.4,253.5 240.2,257.5 238.8,260 239.8,263.5 240.5,264.9 241,265.2 244,265.4 245,265 M165,239.3 166.7,240 167.5,241.5 169.1,243 169.7,244 169.3,246 169.4,248 169,249 168,250.1 167,251.8 166,251.9 165,251.4 M186.6,251 189.8,249 190.6,247 191.8,245 191.5,244.1 191,243.6 189,242.5 188.5,242 188.2,240.5 187.5,240.2 186.5,240.4 183.2,242.5 182.5,243.2 181.9,244.5 181.1,248 181.3,249 182,249.6 184,250.3 185.5,251.3 186.6,251 M334.2,299.5 334.5,299 335.5,298.5 338,299.1 339.7,299 341.7,297.5 344.5,296 346,293.8 347,293.3 349,293.3 351,292.9 351.9,293.5 352.5,294.7 354.5,293.8 356,293.6 359,289.5 359.5,289.1 361,288.8 361.5,288 361.9,286 362.5,284.9 362.7,284 362.2,283 360.5,281.5 359.8,280 358.5,278.5 360.3,274.5 360.5,273.5 360.1,271.5 360.2,269.5 359.7,268.5 358.5,267.2 357.5,266.7 357,266.8 355.5,268 353.5,268.7 353,269.5 353,271.7 352.3,274 352.4,275 352.8,276 354,278 354.7,280.5 355.8,282.5 355.5,283.5 353.7,287 353,287.5 349.5,288.3 348.5,288 346.7,286.5 346.8,286 347.6,284.5 347.4,282 347.6,280 346.1,277 345.9,275.5 346.3,274 348.1,272.5 348.4,271.5 348.1,267 346.8,264.5 346,263.8 344,262.9 343,262.8 342,263.8 340.9,266 340.2,268.5 340.3,270.5 340.8,271.5 342.9,274 343.4,275.5 343.1,276 340.6,278.5 339,279.2 337,279.3 335.5,278.5 334,277 331.5,275.2 330.5,275.3 330,275.6 329.6,276.5 329.1,280.5 328,283 328,285 327.7,285.5 326,286.7 325.4,287.5 325.9,289.5 325.5,291.5 326.5,292.9 328.5,293.9 331.5,296.3 334,299.9 334.2,299.5 M243.1,277 243.9,276.5 244.8,275.5 245.2,274 245.2,272.5 244.5,271 242.5,268.7 241.5,267.8 240.5,267.3 240,267.5 239,268.7 237.2,270 236.7,271 236.7,272.5 238,276 238.9,277 240.5,277.4 243.1,277 M319.3,291.5 322.2,290.5 322.8,290 323,289.5 322.5,288.5 321.5,287.1 320,283.6 319.6,282.5 319.6,281.5 321,279.1 322.8,278 324.4,276.5 326.8,272 326.2,271 324.5,269.5 320.5,268.3 319.7,268.5 319.2,269 316.3,275.5 316.5,276.2 317,276.4 318,276 318.5,276.3 318.7,277 317.5,277.9 316.5,281 315,281.9 314.5,282.5 312.8,286 313,287 314.5,291.1 315.5,291.7 319.3,291.5 M224,285.6 223,285.9 219.5,285.7 217.5,284.3 215,283.7 212.5,282.6 211.9,284 211,284.4 210,284.5 208.5,282.7 206,281.9 203.5,279.8 202,279.2 199.5,279.1 197,277.6 196.5,277.6 194.5,278.6 191.7,279 189.5,279.8 188,280.1 186,281.2 185,281.3 182,280.6 178,282 176.5,282.1 175.5,281.8 174.7,281 173.8,279 173.6,277.5 174.1,275.5 174.5,275 175,274.9 177.5,274.3 183,274.8 185,274.4 186,274.6 187.5,275.6 188,275.6 190,274.1 191,273.7 192.5,272.3 193.5,272 195,272 197,271.3 199.5,272.4 202,272.5 206,273.6 206.8,274 208.5,276.1 211,276.5 212.2,278 212.9,278.5 216.5,279.7 217.5,279.7 219.5,278.6 222.5,277.8 225.5,276.6 226,277 226.5,278.5 227.7,280.5 227.9,282.5 227.5,283.7 227,284.4 224,285.6 M338.5,292.5 336.5,292.5 334,291.4 333,290.6 332.6,289.5 332.8,286 335.3,284.5 337,282.4 337.5,282.3 339.5,283.9 341.5,286 344.2,287 344.6,287.5 344.6,288.5 344,289.5 342.5,290.4 341.6,291.5 340.5,292.1 338.5,292.5 M305,364.5 305.9,362.5 305.9,362 304.5,361 304,360.2 303.9,359.5 305.2,357.5 305,357 302.5,357.5 302,357.3 301.7,356.5 302.1,355.5 303.5,353.5 303.5,352.5 302.5,351.9 300.5,352.2 300.3,350 299.1,348 297.5,344 297.5,343.5 298.5,342.4 299.4,340.5 301.3,339 302.1,338 302.8,335 302.3,334 301.5,333.6 299,333.4 297,332.6 296,332.9 293.5,335.3 293.2,336 293.5,338 292.8,341 293,341.7 294.1,343 293.9,344 293,345 291,345.8 289.5,347 288.5,347.2 286,347.2 285,346.9 282,345.4 280,343.7 278,343.5 277,343 275.2,341.5 275,341 275.3,339.5 275.1,339 273.5,337.8 272.3,336 271.5,335.7 270,335.7 268,334 266,333.8 263,332.3 261.2,330.5 259,329 257.5,327 256.5,326.3 251.5,326 248.5,325.2 247.5,324.5 246.7,322.5 246,321.6 243,320.9 241.5,321.1 238.6,323 238,324 238.1,325 239.9,327 241,328.8 241.5,329.2 244,329.2 244.8,329.5 246.5,330.7 247.2,330.5 248,329.8 250.5,330.8 252.5,332.5 255.7,334 257.5,335.9 259.5,336.9 261.5,338.6 264.5,340 265.4,341 266,342.3 268,342.7 270,344.2 272,344 273,344.5 273.7,345.5 274.1,346.5 274.9,349.5 274.7,350.5 273,351.3 270.5,351.6 268.5,352.4 268,352.4 267,352 266.5,351.5 266.1,349.5 265.5,348.5 263.1,347 261.5,345.4 260.5,345.1 258.5,345.4 257.6,345 257.2,344 257.2,342 257,341.5 256.5,341.1 254,341.1 253,340.6 251.5,339.2 249.5,338.9 249,338.5 248.4,336.5 247.5,335.5 245.5,335.1 243.5,334.2 240.5,335.2 239,334.3 237,333.7 235,332.7 233.7,331.5 233.3,329.5 232.4,328 232.4,327.5 233.3,325.5 232.9,323 234.1,320.5 234.5,320 236.5,319 237.6,317.5 239,316.2 239.4,315.5 240.7,310 241.6,308 241,306.5 241.1,305.5 242,304 243,303.4 245,303 247,302.3 248,302.2 249,302.8 250.4,305 251.5,306.1 252.5,306.4 254,306.4 256,307.8 259,308.2 259.5,307.5 260.6,304.5 261.2,299.5 261.5,299 262.5,298.5 265,298.7 266.1,298 266.1,297 265.1,295.5 264.7,293 262.1,290.5 259.2,288.5 258.7,285.5 259.5,283 260,282.7 264,282.6 267,283.8 267.5,284.2 267.9,285 268.2,289 268.6,290 270.4,291 272,292.6 273,292.7 275.5,292.1 276.5,292.4 277.2,293 279.1,298.5 279.3,301.5 280.4,303.5 281.1,306 282.5,307.5 282.7,308 282,309.5 279.8,312.5 279.4,316 279.5,316.5 281,317.9 281.7,319 282.4,321 283.2,322.5 283.4,324.5 284.2,326.5 285,327.7 286.5,328.9 287.5,328.9 289.5,328.3 291,328.2 294,328.8 295.5,330.1 296,330.1 299,327.2 300,327 301.5,327.3 305.5,325.9 306.5,325.3 308.5,323.2 310.5,322.8 314,323 315.4,325 316,325.2 318.5,325 320.5,325.8 323,325.6 323.8,326 324.5,327 325.5,327.5 326.5,327.1 327,326.6 328.5,324 329.5,323 333.5,321.3 335,321.4 336.1,322 336.4,323 336.1,324.5 336.5,326 336.5,327 332.9,331 329.5,333.4 329,332.6 328.9,331 328.7,330.5 328,330.3 327,330.4 324.5,331.6 322,332.2 319,334.7 318.1,336 318,337 318.5,338 319.3,339 319.2,339.5 318,342.7 315.6,346 315.6,346.5 316.5,347.5 318.5,347.9 319,348.3 320,350.1 321.6,352 321.6,353 320.8,356 320.6,357.5 320.5,358 319.5,358.6 319,358.6 317.5,357.8 315,357.3 314.2,356.5 313.5,355 312.6,354 312.3,353 312.3,352 312.8,350 313.1,348 314.6,346 312,344.1 310.5,342.1 308.8,341 308.7,340.5 309.6,338 310.5,337.6 312,337.3 313.5,336.5 315.5,334.5 317.5,333.4 317.7,333 317.5,332 317,331.5 315,330.7 314,329.8 313,329.3 310,329.5 307.5,330.4 306.9,331 305.8,333.5 305.3,336.5 305.4,337 307.1,338.5 307.4,339.5 307.3,340 305.9,342 305.6,345 304.8,347 306.2,350.5 309.1,355 308.8,358.5 311,361 312.7,364.5 M253,301.1 251.5,301.4 250,300.3 249,295.5 245,291.7 244,290 243.8,289 244,288.5 247.5,285.9 248.5,285.9 250,286.4 253.5,287.1 254,286.8 254.5,285.8 255,285.4 255.9,285.5 256.4,286 256,287 254.8,288 254.7,290 255.9,294.5 256.5,295.5 257.8,297 258.1,298 257.5,299 256,300 253,301.1 M239,301.6 238,301.9 237.5,301.8 236,300.6 234,299.6 233,296 231.1,292.5 229.5,290.5 229.4,289.5 229.5,289 231.5,287.8 232,287 232.1,286 232.5,285.8 235,285.7 236.1,286 236.6,287 237.4,291 238,291.7 239.2,292.5 240.1,294.5 241.3,296 241.6,298 242.3,299.5 242.2,300.5 241.5,301 240,301.2 239,301.6 M190.2,299 192.5,298.8 193.5,298.4 195,296.5 196.8,295.5 197.4,294.5 197,293.8 194.7,292.5 194.4,292 194.3,290.5 193.6,289.5 193,289.3 191,289.4 189,288.5 188.5,288.5 188,289 187.9,291 186.7,293 186.7,293.5 188.5,298.9 189,299.4 190.2,299 M305,321.3 304,321.4 299.5,320.1 298.7,319.5 298.6,315.5 299.8,313 298,310.8 295.3,308.5 295.3,308 296.6,306.5 297,304 297.8,302 297.8,301 297.2,298.5 298,294 298.5,293.3 300.5,292.9 301.5,291.5 302,291.2 303.1,291.5 304.3,292.5 304.9,294.5 304.7,296.5 303.9,299 303.8,301 303,303.5 302.8,306 302.1,307.5 301.9,309 302.1,310 303.8,311.5 304.8,314 306.8,316.5 306.9,317.5 306.3,319.5 305.8,320.5 305,321.3 M274.1,315.5 275.4,314.5 275.7,314 275.9,313 275.7,312 274,308.5 274.4,302 274.1,300.5 273.5,299.5 272.5,298.8 269,298.6 268.3,299 268.1,299.5 267.4,303 268.2,305 268.4,306 265.8,311 265.8,312 266.1,312.5 267,312.9 269.5,313.1 270.5,313.5 271.4,315 272.5,315.8 273.5,315.8 274.1,315.5 M165,307 167.5,308.1 169,307.4 169.5,307.3 170,307.5 171.5,310.5 172,310.5 172.3,308.5 173,306.6 173,307 175,308 176,308 177.5,307 179,308.2 182.5,308 185.5,309.7 190.5,310.7 191,311.3 191.2,313 191.5,313.4 193.4,314 192,316.5 190.6,318 190.9,318.5 193,320.1 196.2,321 196.7,321.5 197,323 197.5,323.8 198.5,324.5 200,325 201,326.9 202,327.4 203.1,327 206.5,323.7 207.6,321.5 207.4,319.5 207.6,319 209.5,318.3 212.4,316.5 212.8,315 214,313.6 214.5,312.5 214.7,311 214.4,308.5 215.2,306 216,305.1 217,304.8 219.5,305.2 221.5,304.4 222,305.5 222.1,309 221.7,312 220.5,314.4 220.5,316 220.1,316.5 219,317 216,317 216.3,315.5 216.1,315 215.5,314.8 214.8,315 213.9,316 214,316.5 214.9,317.5 214,318.4 213.5,320 214.4,323 214.4,325.5 215,326.3 215.5,326.6 217.5,327.1 218.5,326.9 220.6,325 221.4,324 221.5,323 221,321 222.1,318.5 222,316.5 222.4,316 224.5,315.8 226.5,314.6 228,314.4 228.4,314 228.3,312 227.4,310 227.3,309 229.4,307 229.7,306 229.6,304.5 230,304.2 230.5,304.2 232.5,305.3 234.5,305 237,306.6 239.7,307.5 240.2,308 240.1,309 239.5,310 238.5,310.4 237,309.5 236.5,309.4 235.2,311 233,312.5 231.5,314.8 229.5,315.8 229.6,319 228.4,320 227.7,322.5 226.7,324 226.4,325 226.3,328 226.7,330.5 226.4,332.5 226.6,333 228.4,334 228.8,334.5 229.1,336.5 231.5,337.2 232,337.5 233,339.1 235.5,339.6 237,340.8 242,339.7 243.5,339.6 244.5,340 247.3,344 247.5,347 247,347.4 244.5,347.3 242,348.5 241,348.3 239,346.5 236.7,345 237.8,343.5 237.6,342.5 237,341.5 236,341.8 234,343.6 230,345.1 228.5,344.9 226,343.7 225,342.8 224.5,342 224.4,340 223.5,338 223.5,335.8 221,334.4 220.4,333.5 220,332.2 219.5,331.7 217.5,331.5 217.1,331 216.8,329.5 216.5,328.9 215,328.5 213,329.5 211,328.9 208.5,329.1 207,328.7 206.1,329 205.8,329.5 206,334.5 205.7,336.5 206,337.3 207.4,339 206.9,339.5 205,339.7 204.5,340 204.2,341 205.8,343.5 205.4,345.5 206.2,348 205.6,350.5 206,352 205.7,354.5 207,357 207.4,359.5 208,361 208,362.5 209.5,363.2 210.5,363.2 211,362.9 212.9,360.5 215,359.1 217,359 219,358.5 220,358.4 221.7,359 222.2,360 221.5,363.6 220.8,364.5 M356,320.7 352.8,320 352.5,319.5 351.9,316.5 350.1,313.5 349.5,312.9 348,312.4 347.5,312 346.8,310 346.3,307 346.2,306 346.5,305.4 347.5,305.2 349.5,305.4 351.5,305.9 353,306.5 354,307.6 356.3,311.5 357.5,312.5 359.5,313.5 359.7,314 359.2,318 357.5,319.2 356.5,320.4 356,320.7 M364.5,315.3 359.6,313.5 360,312 360.5,311 362.7,310 363.9,307.5 364.5,306.9 M273.5,329.5 274.5,329.2 275.5,329.2 276,329 276.5,328.4 277.5,326 277.5,325 277.2,324 275.1,320.5 274,319.8 273,319.8 271,321.1 268,321.8 266.5,321.6 264.1,320 263.8,319.5 263.7,318.5 264.6,316.5 264.9,314 264.6,313 264.1,312 263.8,310.5 263.5,310.2 261.5,311 259.5,310.9 258.4,313 257.5,314.1 257,314.5 256,314.7 254.5,314.4 252,313.1 250.6,311 248,309 245.5,309 244.5,309.5 243.3,312 243.4,313.5 244.1,315 245.5,316.5 247,318.7 250,318.4 253.5,318.5 254.5,318.8 260.1,322.5 262.5,323.4 264.5,323.6 265,323.9 265.8,326.5 267.5,327.9 269.5,328.6 271.5,329.9 272.5,329.9 273.5,329.5 M208.2,364.5 207.8,363 207,362.5 205,362.4 202.5,363 201.5,362.7 200,360.4 199.4,359 199.4,358 200.2,355.5 199.5,354 200.2,353 200.4,352 198.3,347 200.7,341 200.9,338.5 200.6,336.5 199.4,334.5 199.8,331.5 198.5,330 198.4,328 197.5,327.6 195,327.9 192,327.6 190.6,327 188,323.4 187.7,320 187,318 185.5,316.5 183.5,315.5 180.5,314.8 178,314.5 176,313.8 172,313.3 170.5,313.7 168,315.2 165,315.4 M165,321 166,320.5 167.5,320.5 169.5,319.4 170.5,319.3 171.5,319.5 173.5,320.6 175.5,320.3 177,320.5 184,323 186.1,325 186.4,326 186,326.7 184.5,326.6 184.1,327 183.3,329 182.5,329.8 181.5,329.7 179.5,328.7 177.5,328.8 177,328.6 176.4,328 175.6,326.5 175,326.1 171.5,325.7 167.2,326.5 165.5,328.2 165,328.4 M318.5,364.5 318.9,363.5 319.4,363 322.5,361.1 324.5,360.6 326,359.5 326.9,358.5 327.8,356.5 329.2,354.5 328.6,352 328.6,351.5 329.7,350 329.6,349 329,348.7 327,348.7 324,348.1 323.8,347.5 324.1,346 323.7,345 322.7,343.5 323,342.5 326.5,337.9 327.9,336.5 329.5,333.7 331.5,334.4 334.5,334.1 335,334.3 335.4,335 335.1,336.5 335.5,337.1 337.2,336.5 340,334 342,333 342.4,332.5 342.6,331.5 341.5,328.5 341.5,328 342.6,326 342.5,324.5 342,321.5 342.2,320.5 343,319.1 345.5,320.1 348,320.4 350.7,321.5 350.8,322 348.8,326 348.7,328.5 348.4,329.5 347.5,331.1 345.5,332.4 345.1,333 343.9,337.5 344,338 345.3,340 345.6,342 346.8,344 347.1,346 346.6,348 346.6,349 347,349.5 349.5,350.1 350,350.5 350.5,352 351,352.3 353,352 354.5,352.5 355,353 355.5,354.8 356,355.6 358,356.4 358.5,357 358,359.5 358.2,361.5 357.9,363.5 358.2,364.5 M364.5,348.2 363.3,349 362,350.4 361.5,350.6 359,351 357.5,350.2 356.3,349 355.5,346.5 354.4,345.5 353.7,343.5 351.7,341.5 351.5,340.5 351.4,337 351.8,334 353.5,332.1 354.5,330.3 355.9,329 356.5,326.6 357.6,325 357.8,324.5 357.5,324 356.3,323.5 356.1,323 356.5,321.9 357,321.8 358.5,322.5 360.5,322.4 362.5,322.6 363.5,322.3 364.5,321.5 M364.5,328.4 363.5,328.1 362.5,328.3 361.9,329 361,331.5 359.3,333 358.9,335 357.7,337.5 357.4,339.5 357.5,341 358,342.1 361,343.4 362.6,343 364.5,340.2 M285.9,340.5 288.8,338.5 289.2,338 289.2,337.5 288.2,335.5 287.4,333 286.5,331.5 286,331 284,330.3 283,330.2 282,330.3 280.7,331 279.9,332 279.2,335 279.4,336.5 280,337.5 282.5,340.6 284.5,340.9 285.9,340.5 M165,335.9 166.9,333.5 168.5,332.4 169.5,332.2 173,332.5 175.5,334 177.5,334.8 179,335 181,335 183.5,334.6 185,334.6 186,334.3 188.5,332.6 190,332.3 192,332.7 194,333.5 194.8,334 196.5,336.3 196.6,337.5 193,340.2 192,340.4 191,340.2 186,338.2 185.5,338.1 185,338.5 184,341.3 181.9,343.5 180.6,346 180.2,349.5 179.5,352 179.5,353 180,354.2 181,355.3 183.9,356.5 185,357.6 186,357.7 187.8,357 188.5,356.5 188.7,355.5 187,352 186.5,348.5 186.7,347.5 187.6,346.5 190,344.9 191,344.7 192.5,345.1 194.5,346.4 194.9,347 194.6,348.5 194.9,351 194,352.3 193,352.8 191.6,353 191.1,353.5 190.9,355.5 190.3,357 194.5,361.1 197,362.7 199,363.7 199.5,364.5 M231,360 230.5,360 229,358.8 228,358.7 226.5,359.2 225.5,358.7 224.7,357.5 225,355 224.7,353.5 223.5,353.2 222,352.2 221,352.2 213.5,354.3 212.5,354 212,353.5 211.5,351.7 210,351.2 209.7,350 210,349 210.5,348.5 212.5,347.9 213.6,346.5 214,345.5 213.7,344.5 212.3,343.5 208.9,339.5 208.8,339 209.1,338.5 211.5,335.8 212.5,335.4 214.5,335.4 216,335.1 216.5,335.2 217.1,337.5 218,338.7 218.2,339.5 218,340.7 216.6,344 216.8,345.5 217.5,346.1 219.5,346.1 223.2,347.5 223.7,348.5 224.1,350.5 225,352.5 225.5,352.9 226.5,352.6 228.5,351.4 230.5,351.1 232,350.4 234.7,350.5 237,350 238,350.6 238.7,352.5 238.3,353.5 237,354.8 235.2,355.5 234.5,356 233.5,357.6 231.8,359 231,360 M176.4,364.5 177.3,363.5 178,360.5 177.8,359 176.9,357.5 176.5,355.5 176,354.6 175.5,354.3 173.5,354.3 172.5,353.9 170.6,349 171,348.3 173.2,347.5 174.5,345.6 175,345.5 176.5,345.9 177,345.9 177.3,345.5 177.8,342 177.6,341 176.5,339.2 175.6,338.5 174.5,338.2 173.5,338.1 172.5,338.5 171,340.1 169.1,341.5 168.8,342 168.7,345 168.4,346.5 167.5,347.2 165,347.9 M338.9,364.5 339.2,360.5 340.5,358.5 340.5,356.5 342.5,355.3 344,353.1 345.7,352 346,351.5 346.1,350.5 346,350 344,348.2 343.5,348.1 342,349.2 341,348.7 340,347 339.7,345 339,343 338.9,341.5 338.6,340.5 337.5,339.7 335.5,339.2 334.5,339.3 333,340.1 331.5,341.5 331,342.5 330.1,345.5 330.1,346.5 330.5,347.3 334,348.6 335,348.5 337,347.6 337.5,347.7 338.2,348.5 338.4,350 337.1,352 337.3,354 335.2,356 334,358.4 332.7,359.5 332.4,362 330.8,364.5 M229.8,364.5 230.4,363.5 229.8,362 230.5,360.6 231,360.5 231.5,361.5 231.7,363 232.2,363.5 234,363.8 236,363 238.5,363.8 239.3,363.5 240,362.5 239.9,360 241.5,357.5 241.5,357 240.7,355.5 240.7,355 241,354.6 242,354.5 248,354.4 248.5,354.1 248.7,353.5 248.7,350.5 249.4,349.5 251.2,348 253,346.9 254,346.7 255.5,347 257,347.7 258.4,349 258.8,350 257.7,354 257,354.6 255,355.2 250,355.2 249,355.6 247.8,359 247.8,360 248.6,361.5 248.6,362 246.5,364.5 M278.5,360.6 276.7,358.5 276.1,354 276.4,353 277.7,351.5 278.2,351 279,350.7 281,350.3 282,350.3 282.5,350.6 283.5,352.3 284,352.7 287,353.7 290.5,351.7 295.5,351.6 297,353.4 298.4,354.5 299,358 298.7,359 298,359.5 295,360.2 293,358.6 290.5,358.7 289.6,358.5 288.3,357.5 287.5,355.8 287,355.7 285.6,358 285,358.4 281,359.2 278.5,360.6 M165,355.1 166,355.1 168,354.1 168.5,354.1 169,354.3 169.5,355 171,359.5 170.7,363 171.1,364.5 M251.9,364.5 253.3,362.5 255.5,362.2 256.5,361.5 257.4,359.5 259,358.8 260.5,356.3 261,356 263,356 265,354.9 266,355.4 267.5,357.4 269.6,358.5 271,359.7 273.5,359 274.5,359.1 275.4,359.5 276.9,361.5 277,362 276.4,364.5 M364.5,363 363,362 362.6,361 363.1,358.5 362.8,356 363.5,355.2 364.5,355.1 M352.9,364.5 353.1,363.5 352.6,360 352.2,359 351.5,358.2 350.5,357.7 348,357.4 346.5,357.7 345.6,359 344.8,362.5 345,363.5 345.5,364.5 M188.6,364.5 185.5,361.6 184.5,361.2 182.5,362.5 181.8,363.5 181.5,364.5 M269.4,364.5 268,363.7 266.5,362.1 266,362 263.5,362.7 262.4,363.5 261.6,364.5" fill="none" stroke="#363636" stroke-width="1.5" stroke-linejoin="round"/>
<path d="M182.1,208.1 185,211.5 188.1,214.9 191.3,218.2 194.5,221.4 197.9,224.5 201.2,227.5 204.7,230.4 208.2,233.2 211.7,235.8 215.3,238.3 218.9,240.7 222.6,243 226.2,245.1 229.9,247.1 233.6,249 237.3,250.6 241,252.2 244.6,253.6 248.3,254.8 251.9,255.9 255.5,256.8 259,257.5 262.5,258.1 266,258.5 269.4,258.7 272.7,258.8 275.9,258.7 279.1,258.5 282.2,258 285.2,257.4 288.1,256.7 290.9,255.8 293.6,254.7 296.2,253.5 298.7,252.1 301,250.5 303.2,248.8 305.3,247 307.3,245 309.2,242.8 310.8,240.6 312.4,238.1 313.8,235.6 315.1,232.9 316.2,230.2 317.1,227.3 317.9,224.3 317.9,224.3 313.1,218.6 308,213.2 302.7,208 297.2,203 291.5,198.4 285.7,194.1 279.8,190.1 273.9,186.5 267.9,183.3 261.8,180.5 255.8,178.1 249.9,176.1 244,174.5 238.2,173.4 232.6,172.7 227.2,172.5 221.9,172.8 216.8,173.4 212,174.6 207.5,176.1 203.3,178.1 199.3,180.6 195.7,183.4 192.5,186.6 189.6,190.2 187.1,194.2 185,198.5 183.3,203.2 182.1,208.1Z" fill="#e4e4e4"/>
<path d="M182.1,208.1 185,211.5 188.1,214.9 191.3,218.2 194.5,221.4 197.9,224.5 201.2,227.5 204.7,230.4 208.2,233.2 211.7,235.8 215.3,238.3 218.9,240.7 222.6,243 226.2,245.1 229.9,247.1 233.6,249 237.3,250.6 241,252.2 244.6,253.6 248.3,254.8 251.9,255.9 255.5,256.8 259,257.5 262.5,258.1 266,258.5 269.4,258.7 272.7,258.8 275.9,258.7 279.1,258.5 282.2,258 285.2,257.4 288.1,256.7 290.9,255.8 293.6,254.7 296.2,253.5 298.7,252.1 301,250.5 303.2,248.8 305.3,247 307.3,245 309.2,242.8 310.8,240.6 312.4,238.1 313.8,235.6 315.1,232.9 316.2,230.2 317.1,227.3 317.9,224.3 317.9,224.3 313.1,218.6 308,213.2 302.7,208 297.2,203 291.5,198.4 285.7,194.1 279.8,190.1 273.9,186.5 267.9,183.3 261.8,180.5 255.8,178.1 249.9,176.1 244,174.5 238.2,173.4 232.6,172.7 227.2,172.5 221.9,172.8 216.8,173.4 212,174.6 207.5,176.1 203.3,178.1 199.3,180.6 195.7,183.4 192.5,186.6 189.6,190.2 187.1,194.2 185,198.5 183.3,203.2 182.1,208.1Z" fill="url(#gd)"/>
<path d="M182.1,208.1 185,211.5 188.1,214.9 191.3,218.2 194.5,221.4 197.9,224.5 201.2,227.5 204.7,230.4 208.2,233.2 211.7,235.8 215.3,238.3 218.9,240.7 222.6,243 226.2,245.1 229.9,247.1 233.6,249 237.3,250.6 241,252.2 244.6,253.6 248.3,254.8 251.9,255.9 255.5,256.8 259,257.5 262.5,258.1 266,258.5 269.4,258.7 272.7,258.8 275.9,258.7 279.1,258.5 282.2,258 285.2,257.4 288.1,256.7 290.9,255.8 293.6,254.7 296.2,253.5 298.7,252.1 301,250.5 303.2,248.8 305.3,247 307.3,245 309.2,242.8 310.8,240.6 312.4,238.1 313.8,235.6 315.1,232.9 316.2,230.2 317.1,227.3 317.9,224.3" fill="none" stroke="#2e2e2e" stroke-width="1.6"/>
<path d="M182.8,205.1 185.7,208.3 188.8,211.4 191.9,214.4 195.1,217.3 198.3,220.1 201.6,222.9 204.9,225.5 208.3,228 211.7,230.4 215.1,232.7 218.6,234.9 222.1,237 225.6,238.9 229.1,240.7 232.6,242.4 236.1,243.9 239.6,245.3 243.1,246.5 246.6,247.7 250,248.6 253.4,249.5 256.8,250.2 260.1,250.7 263.4,251.1 266.6,251.3 269.8,251.4 272.9,251.4 275.9,251.2 278.9,250.8 281.8,250.3 284.6,249.7 287.3,248.9 289.9,247.9 292.5,246.8 294.9,245.6 297.2,244.3 299.5,242.8 301.6,241.1 303.6,239.4 305.4,237.5 307.2,235.4 308.8,233.3 310.3,231 311.7,228.6 313,226.2 314.1,223.6 315.1,220.8" fill="none" stroke="#2e2e2e" stroke-width="1.35"/>
<path d="M183.6,202.2 186.6,205.1 189.6,207.9 192.6,210.7 195.7,213.3 198.8,215.9 202,218.4 205.2,220.8 208.5,223.1 211.7,225.2 215,227.3 218.3,229.3 221.7,231.1 225,232.9 228.3,234.5 231.7,236 235,237.4 238.3,238.7 241.6,239.8 244.9,240.8 248.2,241.7 251.4,242.5 254.6,243.1 257.8,243.6 260.9,244 264,244.2 267,244.3 270,244.3 272.9,244.2 275.7,243.9 278.5,243.4 281.2,242.9 283.8,242.2 286.4,241.4 288.9,240.5 291.3,239.4 293.5,238.2 295.8,236.9 297.9,235.5 299.9,233.9 301.8,232.3 303.6,230.5 305.3,228.6 306.9,226.6 308.3,224.5 309.7,222.2 311,219.9 312.1,217.5" fill="none" stroke="#2e2e2e" stroke-width="1.35"/>
<path d="M184.7,199.4 187.5,202.1 190.4,204.6 193.4,207.1 196.4,209.5 199.4,211.8 202.5,214.1 205.6,216.2 208.7,218.3 211.8,220.2 215,222.1 218.1,223.9 221.3,225.5 224.5,227.1 227.6,228.6 230.8,229.9 234,231.2 237.1,232.3 240.3,233.4 243.4,234.3 246.5,235.1 249.5,235.8 252.6,236.4 255.6,236.9 258.5,237.2 261.5,237.4 264.3,237.6 267.2,237.6 270,237.5 272.7,237.2 275.3,236.9 278,236.4 280.5,235.9 283,235.2 285.4,234.4 287.7,233.4 290,232.4 292.1,231.3 294.2,230 296.2,228.7 298.2,227.2 300,225.7 301.7,224 303.4,222.2 305,220.4 306.4,218.4 307.8,216.4 309,214.2" fill="none" stroke="#2e2e2e" stroke-width="1.35"/>
<path d="M185.8,196.8 188.6,199.1 191.4,201.4 194.3,203.7 197.2,205.8 200.1,207.9 203.1,209.9 206,211.8 209,213.7 212,215.4 215,217.1 218,218.7 221,220.2 224,221.6 227,222.9 230,224.1 233,225.3 236,226.3 239,227.2 241.9,228.1 244.8,228.8 247.7,229.4 250.6,230 253.5,230.4 256.3,230.7 259.1,231 261.8,231.1 264.5,231.1 267.1,231.1 269.8,230.9 272.3,230.6 274.8,230.2 277.3,229.8 279.7,229.2 282,228.5 284.3,227.7 286.5,226.9 288.6,225.9 290.7,224.8 292.7,223.6 294.6,222.4 296.5,221 298.2,219.6 299.9,218.1 301.6,216.4 303.1,214.7 304.5,212.9 305.9,211.1" fill="none" stroke="#2e2e2e" stroke-width="1.35"/>
<path d="M187.1,194.2 189.8,196.3 192.6,198.4 195.3,200.4 198.1,202.3 200.9,204.2 203.7,206 206.5,207.7 209.4,209.3 212.2,210.9 215.1,212.4 217.9,213.8 220.8,215.1 223.6,216.3 226.5,217.5 229.3,218.6 232.1,219.6 234.9,220.5 237.7,221.4 240.5,222.1 243.3,222.8 246,223.4 248.8,223.9 251.5,224.3 254.1,224.6 256.8,224.8 259.4,224.9 261.9,225 264.5,225 266.9,224.8 269.4,224.6 271.8,224.3 274.2,223.9 276.5,223.5 278.7,222.9 280.9,222.3 283.1,221.5 285.2,220.7 287.2,219.8 289.2,218.8 291.1,217.7 293,216.6 294.8,215.3 296.5,214 298.1,212.6 299.7,211.2 301.3,209.6 302.7,208" fill="none" stroke="#2e2e2e" stroke-width="1.35"/>
<path d="M188.6,191.8 191.2,193.7 193.8,195.5 196.4,197.3 199.1,199 201.8,200.6 204.4,202.2 207.1,203.7 209.8,205.1 212.5,206.5 215.2,207.8 217.9,209.1 220.6,210.2 223.3,211.3 226,212.4 228.7,213.3 231.3,214.2 234,215.1 236.6,215.8 239.2,216.5 241.9,217.1 244.4,217.6 247,218.1 249.6,218.4 252.1,218.7 254.6,219 257,219.1 259.5,219.2 261.9,219.2 264.3,219.1 266.6,218.9 268.9,218.7 271.1,218.4 273.4,218 275.5,217.6 277.7,217 279.8,216.4 281.8,215.7 283.8,215 285.8,214.2 287.7,213.3 289.5,212.3 291.3,211.3 293,210.1 294.7,209 296.3,207.7 297.9,206.4 299.4,205" fill="none" stroke="#2e2e2e" stroke-width="1.35"/>
<path d="M190.1,189.5 192.6,191.2 195.2,192.7 197.7,194.3 200.2,195.8 202.7,197.2 205.3,198.6 207.8,199.9 210.4,201.2 212.9,202.4 215.4,203.5 218,204.6 220.5,205.6 223,206.6 225.6,207.5 228.1,208.4 230.6,209.2 233.1,209.9 235.6,210.5 238,211.1 240.5,211.7 242.9,212.2 245.4,212.6 247.8,212.9 250.1,213.2 252.5,213.4 254.8,213.6 257.1,213.7 259.4,213.7 261.7,213.7 263.9,213.5 266.1,213.4 268.2,213.1 270.4,212.9 272.5,212.5 274.5,212.1 276.6,211.6 278.5,211 280.5,210.4 282.4,209.7 284.3,209 286.1,208.2 287.9,207.3 289.6,206.4 291.3,205.4 292.9,204.4 294.5,203.3 296.1,202.1" fill="none" stroke="#2e2e2e" stroke-width="1.35"/>
<path d="M191.9,187.3 194.2,188.8 196.6,190.1 199,191.5 201.4,192.8 203.8,194 206.2,195.2 208.6,196.3 211,197.4 213.4,198.5 215.7,199.5 218.1,200.4 220.5,201.3 222.9,202.1 225.3,202.9 227.6,203.7 230,204.4 232.3,205 234.6,205.6 236.9,206.1 239.3,206.6 241.5,207 243.8,207.4 246.1,207.7 248.3,208 250.5,208.2 252.7,208.4 254.9,208.5 257.1,208.5 259.2,208.5 261.3,208.5 263.4,208.3 265.5,208.2 267.5,208 269.5,207.7 271.5,207.4 273.4,207 275.3,206.5 277.2,206.1 279.1,205.5 280.9,204.9 282.7,204.3 284.5,203.6 286.2,202.8 287.9,202 289.5,201.2 291.1,200.3 292.7,199.3" fill="none" stroke="#2e2e2e" stroke-width="1.35"/>
<path d="M193.7,185.3 196,186.5 198.2,187.7 200.4,188.8 202.7,189.9 204.9,191 207.2,192 209.4,193 211.7,193.9 213.9,194.8 216.1,195.6 218.4,196.4 220.6,197.2 222.8,197.9 225,198.6 227.2,199.3 229.4,199.9 231.6,200.4 233.8,200.9 235.9,201.4 238.1,201.8 240.2,202.2 242.4,202.5 244.5,202.8 246.6,203.1 248.7,203.3 250.7,203.4 252.8,203.6 254.8,203.6 256.8,203.7 258.8,203.7 260.8,203.6 262.8,203.5 264.7,203.3 266.6,203.1 268.5,202.9 270.4,202.6 272.2,202.3 274.1,201.9 275.8,201.5 277.6,201.1 279.4,200.6 281.1,200 282.8,199.5 284.4,198.8 286.1,198.2 287.7,197.4 289.3,196.7" fill="none" stroke="#2e2e2e" stroke-width="1.35"/>
<path d="M195.7,183.4 197.8,184.4 199.9,185.4 202,186.4 204.1,187.3 206.2,188.1 208.3,189 210.4,189.8 212.5,190.6 214.5,191.3 216.6,192.1 218.7,192.7 220.8,193.4 222.8,194 224.9,194.6 226.9,195.1 229,195.6 231,196.1 233,196.6 235,197 237,197.3 239,197.7 241,198 243,198.3 245,198.5 246.9,198.7 248.8,198.8 250.8,199 252.7,199.1 254.6,199.1 256.5,199.1 258.3,199.1 260.2,199.1 262,199 263.8,198.9 265.6,198.7 267.4,198.5 269.2,198.3 270.9,198.1 272.7,197.8 274.4,197.4 276.1,197.1 277.7,196.7 279.4,196.2 281,195.8 282.6,195.3 284.2,194.7 285.8,194.1" fill="none" stroke="#2e2e2e" stroke-width="1.35"/>
<path d="M197.8,181.7 199.8,182.5 201.7,183.3 203.7,184.1 205.6,184.8 207.5,185.5 209.5,186.2 211.4,186.9 213.3,187.5 215.3,188.1 217.2,188.7 219.1,189.3 221,189.8 222.9,190.3 224.8,190.8 226.7,191.3 228.6,191.7 230.5,192.1 232.4,192.5 234.2,192.8 236.1,193.2 237.9,193.5 239.8,193.7 241.6,194 243.4,194.2 245.3,194.4 247.1,194.6 248.9,194.7 250.7,194.8 252.4,194.9 254.2,194.9 256,195 257.7,195 259.4,194.9 261.1,194.9 262.8,194.8 264.5,194.7 266.2,194.6 267.9,194.4 269.5,194.2 271.2,194 272.8,193.8 274.4,193.5 276,193.2 277.6,192.9 279.2,192.5 280.7,192.1 282.3,191.7" fill="none" stroke="#2e2e2e" stroke-width="1.35"/>
<path d="M200,180.1 201.8,180.7 203.6,181.3 205.4,181.9 207.2,182.5 209,183.1 210.8,183.6 212.5,184.2 214.3,184.7 216.1,185.2 217.8,185.6 219.6,186.1 221.4,186.5 223.1,187 224.9,187.3 226.6,187.7 228.3,188.1 230.1,188.4 231.8,188.7 233.5,189 235.2,189.3 237,189.6 238.7,189.8 240.4,190 242,190.2 243.7,190.4 245.4,190.6 247.1,190.7 248.7,190.8 250.4,190.9 252,191 253.7,191.1 255.3,191.1 256.9,191.2 258.5,191.2 260.2,191.2 261.7,191.1 263.3,191.1 264.9,191 266.5,190.9 268.1,190.8 269.6,190.6 271.1,190.5 272.7,190.3 274.2,190.1 275.7,189.9 277.2,189.7 278.7,189.4" fill="none" stroke="#2e2e2e" stroke-width="1.35"/>
<path d="M202.4,178.6 204,179.1 205.7,179.6 207.3,180 208.9,180.5 210.5,180.9 212.2,181.3 213.8,181.7 215.4,182.1 217,182.5 218.6,182.8 220.2,183.2 221.8,183.5 223.4,183.8 225,184.2 226.6,184.5 228.2,184.7 229.8,185 231.3,185.3 232.9,185.5 234.5,185.8 236.1,186 237.6,186.2 239.2,186.4 240.7,186.6 242.3,186.8 243.8,186.9 245.4,187.1 246.9,187.2 248.4,187.3 250,187.4 251.5,187.5 253,187.6 254.5,187.7 256,187.7 257.5,187.8 259,187.8 260.5,187.8 262,187.8 263.5,187.8 265,187.8 266.4,187.8 267.9,187.7 269.4,187.6 270.8,187.6 272.3,187.5 273.7,187.4 275.1,187.3" fill="none" stroke="#2e2e2e" stroke-width="1.35"/>
<path d="M204.9,177.3 206.3,177.6 207.8,178 209.3,178.3 210.7,178.6 212.2,178.9 213.6,179.2 215.1,179.4 216.5,179.7 218,180 219.5,180.3 220.9,180.5 222.3,180.8 223.8,181 225.2,181.2 226.7,181.5 228.1,181.7 229.5,181.9 231,182.1 232.4,182.3 233.8,182.5 235.3,182.7 236.7,182.9 238.1,183.1 239.5,183.2 241,183.4 242.4,183.6 243.8,183.7 245.2,183.8 246.6,184 248,184.1 249.4,184.2 250.8,184.3 252.2,184.5 253.6,184.6 255,184.7 256.4,184.7 257.8,184.8 259.2,184.9 260.6,185 262,185 263.3,185.1 264.7,185.1 266.1,185.2 267.4,185.2 268.8,185.2 270.2,185.2 271.5,185.3" fill="none" stroke="#2e2e2e" stroke-width="1.35"/>
<path d="M207.4,176.2 208.7,176.3 210,176.5 211.3,176.7 212.6,176.9 213.9,177.1 215.2,177.2 216.5,177.4 217.8,177.6 219.1,177.8 220.4,177.9 221.7,178.1 223,178.3 224.3,178.5 225.6,178.6 226.9,178.8 228.1,178.9 229.4,179.1 230.7,179.3 232,179.4 233.3,179.6 234.6,179.7 235.9,179.9 237.2,180.1 238.5,180.2 239.7,180.4 241,180.5 242.3,180.7 243.6,180.8 244.9,181 246.2,181.1 247.5,181.2 248.7,181.4 250,181.5 251.3,181.7 252.6,181.8 253.9,181.9 255.2,182.1 256.4,182.2 257.7,182.3 259,182.5 260.3,182.6 261.6,182.7 262.8,182.9 264.1,183 265.4,183.1 266.7,183.2 267.9,183.4" fill="none" stroke="#2e2e2e" stroke-width="1.35"/>
<path d="M320.7,227.7 317.9,224.2 314.9,220.7 311.9,217.3 308.8,214 305.6,210.8 302.4,207.7 299.1,204.7 295.7,201.8 292.2,199 288.8,196.3 285.2,193.8 281.6,191.3 278,189 274.4,186.9 270.8,184.8 267.1,183 263.5,181.2 259.8,179.6 256.2,178.2 252.6,176.9 249,175.8 245.4,174.9 241.9,174.1 238.4,173.4 234.9,173 231.6,172.7 228.3,172.5 225,172.6 221.8,172.8 218.7,173.1 215.7,173.7 212.8,174.3 210,175.2 207.3,176.2 204.7,177.4 202.2,178.7 199.8,180.2 197.6,181.8 195.5,183.6 193.5,185.6 191.6,187.6 189.9,189.9 188.3,192.2 186.9,194.7 185.6,197.3 184.4,200 183.4,202.8 182.6,205.8 181.9,208.8" fill="none" stroke="#2a2a2a" stroke-width="1.3"/>
<line x1="257.0" y1="183.0" x2="392.0" y2="141.5" stroke="#5e5e5e" stroke-width="1.4"/>
<line x1="287.6" y1="226.4" x2="393.8" y2="184.7" stroke="#5e5e5e" stroke-width="1.4"/>
<line x1="340.0" y1="270.0" x2="393.8" y2="255.1" stroke="#5e5e5e" stroke-width="1.4"/>
</g>
</svg>
<div class="t" style="left:49.1px;top:22.1px"><span style="transform:scaleX(1.0275)">Appearance</span></div>
<div class="t" style="left:229.0px;top:22.1px"><span style="transform:scaleX(1.1000)">of</span></div>
<div class="t" style="left:267.4px;top:22.1px"><span style="transform:scaleX(1.0952)">typical</span></div>
<div class="t" style="left:370.0px;top:22.1px"><span style="transform:scaleX(1.0843)">fatigue</span></div>
<div class="t" style="left:480.4px;top:22.1px"><span style="transform:scaleX(1.0840)">fracture</span></div>
<div class="t" style="left:267.3px;top:64.5px"><span style="transform:scaleX(1.0563)">surface</span></div>

<div class="l" style="left:395.5px;top:135.4px">Initiation</div>
<div class="l" style="left:395.5px;top:178.4px">Fatigue crack</div>
<div class="l" style="left:395.5px;top:202.4px">propagation</div>
<div class="l" style="left:395.5px;top:245.7px">Catastrophic</div>
<div class="l" style="left:395.5px;top:270.5px">rupture</div>

<div class="pn">31</div>
</body></html>
